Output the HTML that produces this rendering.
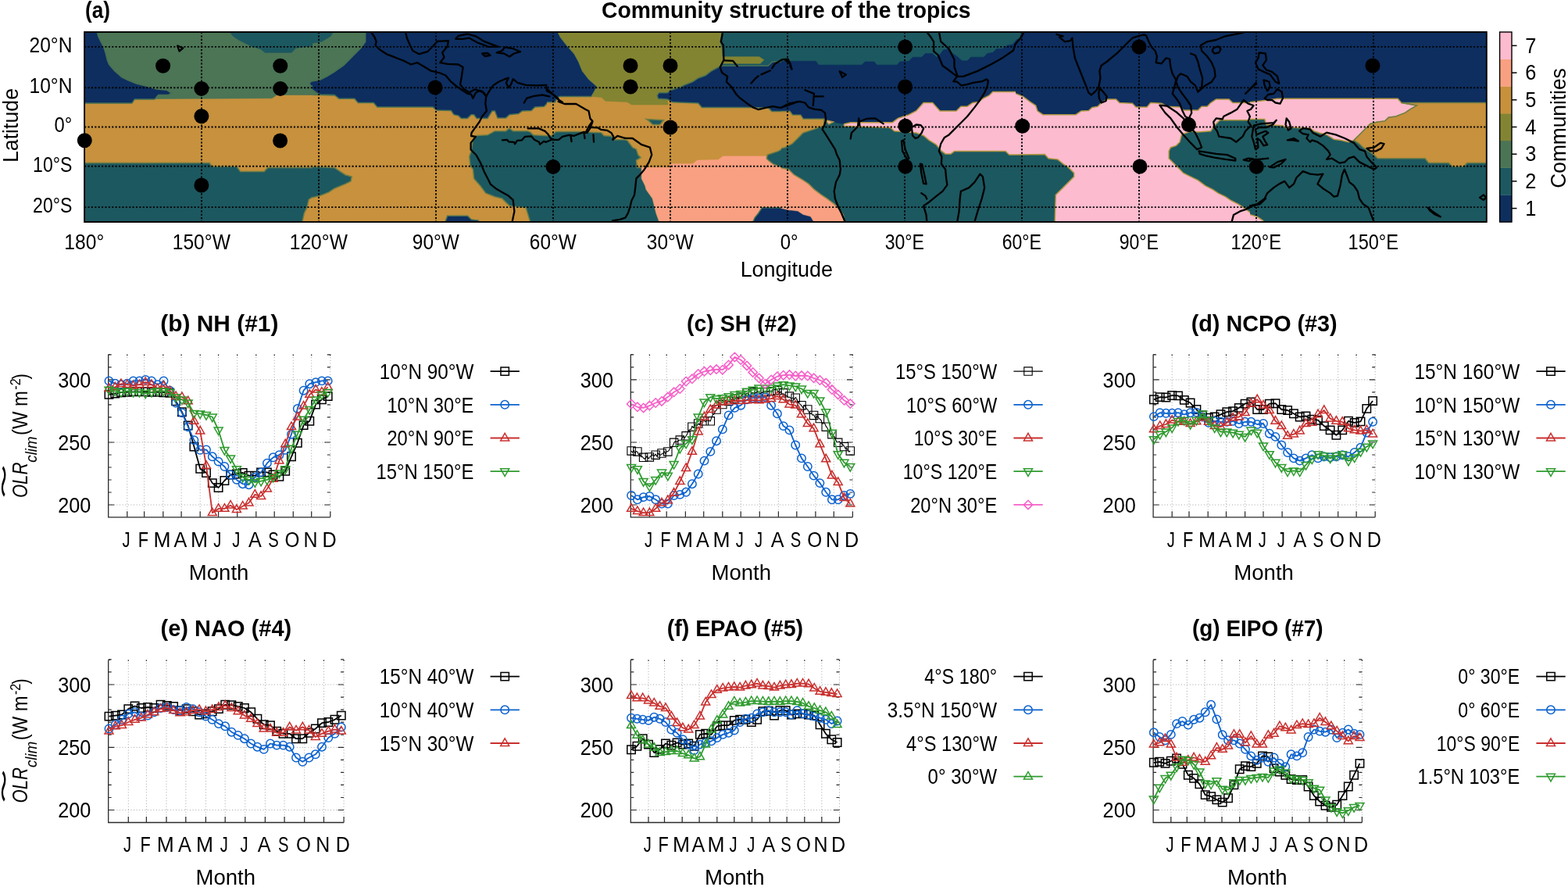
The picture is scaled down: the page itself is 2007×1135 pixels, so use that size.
<!DOCTYPE html>
<html lang="en"><head><meta charset="utf-8"><title>Community structure of the tropics</title>
<style>html,body{margin:0;padding:0;background:#fff}body{width:2007px;height:1135px;overflow:hidden}svg{display:block}text{font-family:"Liberation Sans", sans-serif}</style>
</head><body>
<svg width="2007" height="1135" viewBox="0 0 2007 1135">
<rect width="2007" height="1135" fill="#fff"/>
<defs><clipPath id="mc"><rect x="108.1" y="41" width="1794.7" height="243"/></clipPath>
<clipPath id="c0"><rect x="104" y="36" width="299" height="254"/></clipPath>
<clipPath id="c1"><rect x="400" y="36" width="303" height="254"/></clipPath>
<clipPath id="c2"><rect x="700" y="36" width="303" height="254"/></clipPath>
<clipPath id="c3"><rect x="1000" y="36" width="303" height="254"/></clipPath>
<clipPath id="c4"><rect x="1300" y="36" width="303" height="254"/></clipPath>
<clipPath id="c5"><rect x="1600" y="36" width="311" height="254"/></clipPath>
<filter id="bl" x="-2%" y="-5%" width="104%" height="110%"><feGaussianBlur stdDeviation="0.7"/></filter>
</defs>
<g clip-path="url(#mc)"><g filter="url(#bl)">
<g clip-path="url(#c0)">
<rect x="100" y="36" width="304" height="253" fill="#c7913c"/>
<polygon points="102.3,35.8 420,35.8 420,121.5 354.4,121.5 347.9,125.7 198,126.4 198,126.9 172.4,126.9 168.9,132 102.3,132" fill="#4b7455" stroke="#4b7455" stroke-width="0.6"/>
<polygon points="102.3,35.8 123.3,35.8 125.7,46.3 129.2,53.3 132.7,60.3 135,67.3 137.3,76.7 139.7,82.5 146.7,90.7 156,98.9 163,102.4 174.7,107 188.7,110.5 200.4,114 213.2,115.2 219.5,119.2 215.5,121.5 202.7,121.5 198,126.9 172.4,126.9 168.9,132 102.3,132" fill="#0e2f5e" stroke="#4a7052" stroke-width="1.5"/>
<polygon points="290.2,35.8 298.4,46.3 305.4,51 312.4,54.5 321.7,59.2 333.4,62.7 339.2,67.3 373.1,67.3 378.9,61.5 394.1,59.2 403.4,59.2 408.1,57.5 420,56.8 420,35.8" fill="#1d5860" stroke="#1d5860" stroke-width="0.6"/>
<polygon points="396.4,107 397.6,104.2 408.1,103.5 411.6,98.9 420,96.5 420,121.5 413.9,119.9 410.4,116.4 405.8,110.5 397.6,109.8" fill="#0e2f5e" stroke="#4a7052" stroke-width="1.5"/>
<polygon points="102.3,208.6 268.1,208.6 271.6,213.2 303.1,213.2 307.7,219.5 338.1,219.5 342.7,214.4 420,214.4 420,245.9 410.4,247.1 401.1,251.7 395.3,255.2 392.9,265.7 389.4,272.7 385.9,289.1 102.3,289.1" fill="#1d5860" stroke="#6f7e44" stroke-width="1.5"/>
</g>
<g clip-path="url(#c1)">
<rect x="396" y="36" width="308" height="253" fill="#c7913c"/>
<polygon points="394.2,35.8 470,35.8 470,123.4 394.2,121.5" fill="#4b7455" stroke="#4b7455" stroke-width="0.6"/>
<polygon points="394.2,35.8 429.2,35.8 423.3,46.3 411.7,53.3 394.2,56.1" fill="#1d5860" stroke="#1d5860" stroke-width="0.6"/>
<polygon points="467.7,35.8 467.7,53.3 463,60.3 456,67.3 446.7,76.7 439.7,83.7 428,91.9 418.7,97.7 409.3,102.4 394.2,104.7 394.2,110.5 404.7,118.7 409.3,121 428,121.5 433.8,126.2 453.7,126.2 458.4,131.5 478.2,131.5 482.9,136.9 554,136.9 558.7,140.9 577.4,141.6 580.9,146.7 586.7,147.9 590.2,151.4 598.4,151.4 603.1,146.7 606.6,146.7 610.1,151.4 624.1,151.4 629.9,142 633.4,142 636.9,150.9 647.4,150.9 652.1,146.7 663.7,145.5 668.4,142 680.1,141.6 684.8,136.9 696.4,136.2 701.1,131.5 710.4,130.8 712.8,126.9 720,125.7 720,35.8" fill="#0e2f5e" stroke="#4a7052" stroke-width="1.5"/>
<polygon points="710.4,35.8 720,35.8 720,49.8" fill="#838433" stroke="#838433" stroke-width="0.6"/>
<polygon points="720,173.8 701.1,173.8 682.7,172.8 678.7,168.9 675.4,167.7 656.7,167.7 652.1,164.2 647.4,167.7 633.4,167.7 624.1,172.8 610.1,173.5 605.4,179.4 603.1,193.4 600.7,200.4 601.9,212.1 605.4,216.7 606.6,228.4 614.7,237.7 621.7,247.1 633.4,251.7 642.7,254.1 652.1,263.4 673.1,265.7 676.6,277.4 680.1,289.1 720,289.1" fill="#1d5860" stroke="#6f7e44" stroke-width="1.5"/>
<polygon points="394.2,213.2 428,214.4 435,219.1 442,223.7 450.2,226.1 449,231.9 442,235.4 428,241.2 421,245.9 409.3,250.6 394.2,254.1" fill="#1d5860" stroke="#6f7e44" stroke-width="1.5"/>
<polygon points="568.1,289.1 572.7,276.2 598.4,276.2 603.1,280.9 612.4,282.1 614.7,289.1" fill="#0e2f5e" stroke="#4a7052" stroke-width="1.5"/>
</g>
<g clip-path="url(#c2)">
<rect x="696" y="36" width="308" height="253" fill="#c7913c"/>
<polygon points="694.2,35.8 711.7,35.8 717.5,47.5 725.7,58 735,68.5 740.8,79 745.5,90.7 753.7,101.2 764.2,110.5 760.7,117.5 757.2,123.4 716.3,123.4 712.8,125.7 710.5,130.8 694.2,130.8" fill="#0e2f5e" stroke="#4a7052" stroke-width="1.5"/>
<polygon points="711.7,35.8 925.2,35.8 921.7,53.3 924.1,60.3 925.2,76.7 919.4,86 910.1,91.2 903.1,96.5 893.7,100 886.7,104.7 877.4,108.2 870.4,111.7 858.7,115.2 854,118.7 843.5,118.7 841.2,122.2 842.4,126.2 854,126.9 855.2,133.9 808.5,133.9 802.7,130.4 774.7,129.2 770,124.5 757.2,123.4 760.7,117.5 764.2,110.5 753.7,101.2 745.5,90.7 740.8,79 735,68.5 725.7,58 717.5,47.5" fill="#838433" stroke="#838433" stroke-width="0.6"/>
<polygon points="925.2,35.8 1020,35.8 1020,79 988.7,79 983.1,84.2 921.7,84.2 925.2,76.7 924.1,60.3 921.7,53.3" fill="#1d5860" stroke="#1d5860" stroke-width="0.6"/>
<polygon points="917.1,72.7 971.9,72.7 977.8,76.7 973.1,81.3 917.1,81.3" fill="#838433" stroke="#838433" stroke-width="0.6"/>
<polygon points="841.2,122.2 843.5,118.7 854,118.7 858.7,115.2 870.4,111.7 877.4,108.2 886.7,104.7 893.7,100 903.1,96.5 910.1,91.2 919.4,86 922.9,84.2 983.1,84.2 988.7,79 1020,79 1020,142.5 988,142.5 983.6,138.1 956.7,137.4 898.4,137.4 893.7,132 861.1,130.8 854,126.9 842.4,126.2" fill="#0e2f5e" stroke="#4a7052" stroke-width="1.5"/>
<polygon points="694.2,173.8 705.6,173.8 711.7,168.4 742.5,168.4 769.3,169.8 773.3,173.8 782.4,174.2 786.4,178.7 799.9,178.7 802.7,179.4 809.7,188.7 814.4,191.1 816.7,198.1 820.2,201.6 814.4,205.1 815.5,214.4 821.4,214.4 821.4,228.4 826,237.7 827.2,242.4 835.4,254.1 837.7,263.4 840,272.7 845.9,289.1 694.2,289.1" fill="#1d5860" stroke="#6f7e44" stroke-width="1.5"/>
<polygon points="827.2,152.5 849.4,153.7 844.7,159.5 835.4,159.5 830.7,154.9" fill="#1d5860" stroke="#6f7e44" stroke-width="1.5"/>
<polygon points="821.4,214.4 856.4,214.4 858.7,209.7 886.7,209.7 892.6,205.1 919.4,204.6 925.2,199.9 980.1,199.9 983.6,205.1 989.4,209.7 1001.1,214.4 1008.1,219.1 1010.4,226.1 1020,228.4 1020,270.4 1010.4,269.2 1008.1,265.7 975.4,265.7 970.8,272.7 966.1,278.6 961.4,289.1 845.9,289.1 840,272.7 837.7,263.4 835.4,254.1 827.2,242.4 826,237.7 821.4,228.4" fill="#f8a081" stroke="#f8a081" stroke-width="0.6"/>
<polygon points="1020,172.4 1015.1,179.4 1008.1,186.4 996.4,193.4 982.4,198.1 981.3,202.7 983.6,205.1 989.4,209.7 1001.1,214.4 1008.1,219.1 1010.4,226.1 1020,228.4" fill="#1d5860" stroke="#6f7e44" stroke-width="1.5"/>
<polygon points="961.4,289.1 966.1,278.6 970.8,272.7 975.4,265.7 1008.1,265.7 1010.4,269.2 1020,270.4 1020,289.1" fill="#0e2f5e" stroke="#4a7052" stroke-width="1.5"/>
</g>
<g clip-path="url(#c3)">
<rect x="996" y="36" width="308" height="253" fill="#1d5860"/>
<polygon points="994.2,78.3 1044.3,78.3 1047.8,83.2 1102.7,83.2 1107.4,79 1119,79 1122.5,83.2 1148.2,83.2 1151.7,79 1163.4,78.3 1168.1,73.2 1179.7,73.2 1184.4,68.5 1193.7,68.5 1198.4,73.2 1203.1,69.7 1207.7,63.8 1214.7,62.7 1219.4,68.5 1226.4,73.2 1231.1,77.8 1238.1,77.8 1242.7,73.2 1259.1,73.2 1263.7,68.5 1270.8,67.3 1275.4,62.7 1283.6,62.2 1289.4,58 1296.4,56.8 1301.1,51 1305.8,48.7 1309.3,41.7 1310.4,35.8 1320,35.8 1320,125.7 1312.8,123.4 1303.4,117.5 1270.8,117.5 1266.1,122.2 1259.1,125.7 1252.1,130.4 1245.1,131.5 1238.1,136.2 1229.9,136.2 1224.1,142 1203.1,142 1193.7,131.5 1182.1,131.5 1172.7,142 1163.4,146.7 1149.4,151.4 1142.4,156.7 1088.7,156.7 1080.5,158.8 1066.5,156 1057.2,153.7 1054.6,152.3 1028.2,152.3 1024.7,147.2 1014.5,147.2 1011,142.5 994.2,142.5" fill="#0e2f5e" stroke="#0e2f5e" stroke-width="0.6"/>
<polygon points="994.2,142.5 1011,142.5 1014.5,147.2 1024.7,147.2 1028.2,152.3 1054.6,152.3 1054.9,160.7 1042,165.4 1028,170 1021,177 1014,184 1004.7,188.7 994.2,191.1" fill="#c7913c" stroke="#6f7e44" stroke-width="1.5"/>
<polygon points="1057.2,153.7 1066.5,156 1060.7,158.8" fill="#fcbbcf" stroke="#b0963f" stroke-width="1.5"/>
<polygon points="1080.5,158.8 1088.7,156.7 1142.4,156.7 1149.4,151.4 1163.4,146.7 1172.7,142 1182.1,131.5 1193.7,131.5 1203.1,142 1224.1,142 1229.9,136.2 1238.1,136.2 1245.1,131.5 1252.1,130.4 1259.1,125.7 1266.1,122.2 1270.8,117.5 1303.4,117.5 1312.8,123.4 1320,125.7 1320,198.1 1291.8,198.1 1287.1,193.4 1221.7,193.4 1217.1,196.9 1210.1,196.9 1205.4,193.4 1198.4,185.2 1189.1,179.4 1182.1,173.5 1172.7,170 1163.4,168.9 1144.7,167.7 1140,163.5 1080.5,161.2" fill="#fcbbcf" stroke="#b0963f" stroke-width="1.5"/>
<polygon points="994.2,214.4 1009.3,216.7 1016.3,223.7 1028,230.7 1035,235.4 1042,242.4 1051.3,249.4 1058.4,254.1 1067.7,261.1 1074.7,268.1 1079.4,275.1 1081.7,289.1 994.2,289.1" fill="#f8a081" stroke="#9a8a46" stroke-width="1.5"/>
<polygon points="994.2,265.7 1009.3,269.2 1021,270.4 1028,275.1 1037.3,277.4 1044.3,289.1 994.2,289.1" fill="#0e2f5e" stroke="#0e2f5e" stroke-width="0.6"/>
</g>
<g clip-path="url(#c4)">
<rect x="1296" y="36" width="308" height="253" fill="#fcbbcf"/>
<polygon points="1294.2,35.8 1620,35.8 1620,131.5 1601.1,131.5 1577.8,131.5 1573.1,126.9 1556.7,126.9 1549.7,131.5 1545.1,136.2 1538.1,136.2 1533.4,140.9 1514.7,140.9 1510.1,136.9 1493.7,136.2 1486.7,132.2 1472.7,131.5 1468.1,136.9 1454,136.9 1449.4,132.2 1433,131.5 1428.4,126.9 1416.7,126.9 1409.7,131.5 1405,136.2 1398,137.4 1393.4,141.6 1384,142 1377,146.7 1335,146.7 1328,142 1325.7,135 1318.7,130.4 1309.3,123.4 1294.2,117.5" fill="#0e2f5e" stroke="#a8923f" stroke-width="1.5"/>
<polygon points="1294.2,35.8 1309.3,35.8 1304.7,48.7 1294.2,53.3" fill="#1d5860" stroke="#1d5860" stroke-width="0.6"/>
<polygon points="1294.2,198.1 1337.3,197.6 1342,202.7 1353.7,203.9 1360.7,209.7 1367.7,214.4 1374.7,221.4 1374.7,226.1 1367.7,233.1 1360.7,240.1 1351.3,249.4 1350.2,282.1 1352.5,289.1 1294.2,289.1" fill="#1d5860" stroke="#b0963f" stroke-width="1.5"/>
<polygon points="1620,157.2 1603.4,157.2 1598.8,153.7 1561.4,153.7 1554.4,160.7 1549.7,167.7 1533.4,168.9 1524.1,167.7 1512.4,172.4 1510.1,181.7 1505.4,186.4 1498.4,188.7 1496.1,193.4 1496.1,202.7 1503.1,209.7 1510.1,216.7 1514.7,221.4 1524.1,226.1 1533.4,230.7 1542.7,237.7 1552.1,242.4 1559.1,247.1 1568.4,251.7 1575.4,256.4 1584.8,261.1 1591.8,265.7 1601.1,272.7 1612.8,277.4 1620,279.7" fill="#1d5860" stroke="#b0963f" stroke-width="1.5"/>
</g>
<g clip-path="url(#c5)">
<rect x="1596" y="36" width="316" height="253" fill="#1d5860"/>
<polygon points="1594.2,35.8 1910.4,35.8 1910.4,131.5 1793.7,131.5 1789.1,126.2 1635,126.2 1623.3,128 1594.2,131.5" fill="#0e2f5e" stroke="#0e2f5e" stroke-width="0.6"/>
<polygon points="1594.2,131.5 1623.3,128 1635,126.2 1789.1,126.2 1793.7,131.5 1813.6,135 1805.4,139.7 1798.4,144.4 1786.7,149 1777.4,150.2 1772.7,154.9 1763.4,156 1754,158.4 1749.4,163 1744.7,167.7 1737.7,174.7 1733,179.4 1726,181.7 1716.7,179.4 1707.4,178.2 1698,172.4 1688.7,170 1681.7,167.7 1677,164.2 1651.3,163 1646.7,164.2 1642,160.7 1621,159.5 1618.7,152.5 1594.2,152.5" fill="#fcbbcf" stroke="#b0963f" stroke-width="1.5"/>
<polygon points="1793.7,131.5 1910.4,131.5 1910.4,208.6 1877.8,208.6 1873.1,213.2 1859.1,213.2 1854.4,208.6 1828.7,208.6 1824.1,202.7 1763.4,202.7 1758.7,198.1 1751.7,193.4 1744.7,188.7 1740,184 1733,179.4 1737.7,174.7 1744.7,167.7 1749.4,163 1754,158.4 1763.4,156 1772.7,154.9 1777.4,150.2 1786.7,149 1798.4,144.4 1805.4,139.7 1813.6,135" fill="#c7913c" stroke="#6f7e44" stroke-width="1.5"/>
<polygon points="1594.2,272.7 1609.3,277.4 1616.3,282.1 1621,289.1 1594.2,289.1" fill="#fcbbcf" stroke="#b0963f" stroke-width="1.5"/>
</g>
</g>
<g fill="none" stroke="#000" stroke-width="2.3" stroke-linejoin="round" stroke-linecap="round">
<polygon points="227.2,58.5 234.2,61.5 229.5,65.5"/>
<polyline points="474.7,40.5 479.4,47.5 481.7,53.3 480.5,58 486.4,63.8 495.7,69.7 505,73.2 516.7,77.8 526,82.5 534.2,80.2 542.4,84.9 551.7,90.7 563.4,93.5 570.4,96.5 577.4,104.7 584.4,110.5 591.4,115.2 598.4,119.9 603.1,120.6 605.4,125.7 608.9,118.7 613.6,115.9 619.4,118.7 622.2,123.4 621.3,132.7 622.9,142 617.1,149 613.6,156 607.7,164.2 603.5,170 603.1,174 608.9,174.9 602.6,182.9 602.6,191.5 609.6,198.5 615.2,208.6 619.9,220 625.2,230.3 628,235.9 634.6,241.2 642.7,245.9 650.9,250.6 656.7,255.9 658.4,270.4 655.6,283.9"/>
<polyline points="519,40.5 520.9,48.7 524.9,58 528.4,65 536.5,69.2 547,66.2 555.2,58 559.9,52.9 573.9,52.2 572.7,59.2 566.2,67.3 568.5,73.2 563.4,80.2 572.7,81.8 586.7,82.5 592.6,86 590.9,97.7 589.1,108.2 593.7,114 600.7,118.2 607.7,114.5 617.1,116.8 622.2,123.4"/>
<polyline points="622.2,123.4 626.4,116.4 631.1,109.4 638.1,104.7 646.2,101.2 650.9,99.6 647.9,105.9 650.9,112.2 653.9,108.2 656.7,101.2 662.6,105.9 673.1,108.9 687.1,109.4 699.2,108.9 699.9,116.4 704.6,118.7 709.3,122.2 713.9,126.9 720,130.8"/>
<polyline points="670.8,131.5 674.3,125.7 683.6,122.9 694.1,121.5 703.4,123.4"/>
<polygon points="583.2,49.8 586.7,45.9 598.4,43.5 608.9,46.3 619.4,52.9 629.9,56.8 638.1,59.9 625.2,59.9 611.2,54.5 600.7,48.7 592.6,49.8"/>
<polygon points="635.7,67.3 642.7,65 646.2,60.3 656.7,62.2 666.1,66.2 657.9,68.5 652.1,72.5 645.1,68.5"/>
<polygon points="617.1,68.5 624.1,68 627.6,70.8 620.6,72"/>
<polyline points="643,179.3 649,178.8 651,181.3 658,181.8 659,184.3 662,179.8 668,179.3 672,174.8 680,174.3 684,178.8 690,181.8 691,184.8 696,180.8 699,181.8 706,178.8 715,178.8 720,174.8 728,172.8 735,173.8 742,170.9 747.5,168.9 751.5,169.9 755.5,163.9 758.4,155.9"/>
<polyline points="714.6,130 722.6,133 737.5,133 749.5,140 753.5,142 755.5,151.9 758.4,154.9 753.5,161.9 749.5,169.9"/>
<polyline points="753.5,162.9 765.4,163.4 769.4,165.9 777.4,166.9 782.4,169.9 785.3,174.8 784.4,178.8 790.3,173.8 800,176.8"/>
<polyline points="675.7,164.4 689.7,164.4 697.7,167.9 701.6,171.9 704.6,176.8 708.6,178.8"/>
<polyline points="730.5,173 731.5,181"/>
<polyline points="747.5,170 748.5,177"/>
<polyline points="759.5,172.5 760,181.5"/>
<polyline points="700,114 707,119.9 714.5,126.2 715.9,129.9"/>
<polyline points="799.9,176.8 809.7,177 821.4,185.2 831.9,188.7 834.2,198.1 830.7,207.4 824.9,216.7 817.9,224.9 814.4,228.4 813.2,240.1 812,249.4 808.5,256.4 806.2,265.7 803.9,272.7 800.4,278.6 793.4,280.9 784,282.5"/>
<polyline points="925.2,40.5 922.9,53.3 925.9,58 926.4,76.7 921.7,86 924.1,93 931.1,97.7 929.9,104.7 935.7,110.5 942.7,121 947.4,125.7 956.7,132.7 963.7,137.4 970.8,140.2 980.1,137.8 989.4,136.2 998.8,137.8 1008.1,135 1020,130.4"/>
<polyline points="926.9,77.4 938.1,77.8 943.9,84.9"/>
<polyline points="961.4,106.6 966.1,101.2 970.8,97.2"/>
<polyline points="974.3,95.4 985.9,90.2"/>
<polyline points="988.3,87.2 991.8,81.8 1001.1,76.2 1008.6,75.7 1011.6,81.8 1013.2,87.9"/>
<polyline points="1000,137.8 1009.3,132.7 1023.3,129.9 1030.3,131.5 1035,137.4 1042,139.7 1051.3,140.9 1056,144.4 1057.2,153.7 1054.9,160.7 1052.5,165.4 1057.2,172.4 1063,181.7 1068.9,191.1 1071.2,198.1 1074.7,205.1 1075.9,216.7 1074.7,223.7 1070,233.1 1067.7,244.7 1068.9,254.1 1072.4,263.4 1077,272.7 1081.7,283.9"/>
<polyline points="1030.3,115.2 1042,119.9 1040.8,135"/>
<polyline points="1042,123.4 1053.7,123.4"/>
<polyline points="1004.7,76.7 1009.3,80.2"/>
<polyline points="1011.2,83.7 1013.5,88.8"/>
<polygon points="1074.7,91.2 1082.9,95.4 1078.2,98.9"/>
<polyline points="1088.7,177.5 1089.9,170 1098,161.9 1099.2,151.4 1100.4,160.7"/>
<polyline points="1099.2,156 1109.7,151.8 1120.2,151.4 1130.7,158.4"/>
<polygon points="1166.9,163 1172.7,159.5 1178.6,160.2 1182.1,164.2 1179.7,170 1175.1,175.9 1171.6,177 1168.1,173.5"/>
<polygon points="1154,180.5 1156.4,179.4 1158.7,191.1 1163.4,202.7 1161.1,203.9 1155.2,193.4"/>
<polygon points="1177.9,209.7 1180.2,210.2 1183.2,223.7 1185.6,235.4 1182.1,234.9 1179.3,221.4"/>
<polyline points="1179.3,247.1 1184.4,250.6 1186.3,254.5"/>
<polyline points="1186,40.5 1191.4,47.5 1195.1,53.3 1195.1,65.7 1200.7,70.4 1206.6,84.2 1214.5,89.8 1225,97.9"/>
<polyline points="1201.9,40.5 1204.2,53.1 1214.5,62.4 1221.5,76.2 1221.5,85.3 1225.5,97.2 1220.3,104.2 1225,104.7 1230.6,109.4 1237.6,108.2 1245.5,105.9 1257,104.2 1262.8,101.4 1264.9,103.5 1263.7,110.5 1260.2,118.7 1254.4,128 1247.4,137.4 1238.1,149 1229.9,157.2 1221.7,165.4 1214.7,172.4 1208.9,175.9 1204.2,184 1201.9,193.4 1205.4,200.4 1204.9,209.7 1210.1,216.7 1211.2,228.4 1212.4,236.6 1206.6,244.7 1196.1,252.9 1189.1,258.7 1182.1,263.4 1185.6,275.1 1186.3,283.9"/>
<polyline points="1225,97.9 1232.9,97.9 1251.4,90.9 1269.6,81.8 1283.4,73.9 1297.1,64.5 1299.5,56.6 1306.2,48.7 1309.7,42.8 1310.9,40.5"/>
<polyline points="1225.2,283.9 1227.6,270.4 1228.7,254.1 1229.9,244.7 1240.4,240.1 1247.4,233.1 1252.1,226.1 1254.4,222.6 1257.9,226.1 1260.2,240.1 1256.7,254.1 1252.1,268.1 1247.4,283.9"/>
<polyline points="1352.5,44 1360.7,46.3 1356,47.5 1363,53.3 1370,52.2 1372.4,48.7 1373.5,60.3 1375.9,74.3 1380.5,86 1385.2,97.7 1389.9,109.4 1393.4,118.7 1396.9,121.5 1402.7,116.4 1406.2,111.7 1408.5,100 1407.4,90.7 1409.7,83.7 1416.7,79 1423.7,73.2 1430.7,67.3 1437.7,60.3 1444.7,53.3 1449.4,48.7 1456.4,46.3 1463.4,44.5 1466.9,45.2 1470.4,53.3 1473.9,60.3 1478.6,65 1480.9,72 1479.7,80.2 1486.7,81.3 1492.6,74.3 1497.2,75.5 1498.4,86 1500.7,94.2 1505.4,102.4 1503.1,111.7 1500.7,119.9 1505.4,125.7 1510.1,132.7 1513.6,142 1517.1,149 1521.7,151.4 1525.2,144.4 1524.1,135 1519.4,128 1512.4,118.7 1507.7,111.7 1505.4,104.7 1507.7,97.7 1511.2,94.2 1519.4,97.7 1524.1,104.7 1529.9,109.4 1533.4,117.5 1538.1,112.9 1539.2,100 1535.7,88.4 1533.4,79 1529.9,70.8 1524.1,68.5"/>
<polyline points="1533.4,117.5 1542.7,109.4 1550.9,104.7 1555.6,97.7 1554.4,88.4 1550.9,80.2 1545.1,72 1538.1,65 1536.9,58 1545.1,53.3 1556.7,51 1568.4,46.3 1580.1,44 1591.8,41.7"/>
<polygon points="1407.8,112.9 1412,117.5 1416.7,123.4 1415.5,129.2 1409.7,131.5 1406.9,125.7 1406.2,118.7"/>
<polygon points="1553.2,61.5 1559.1,59.2 1562.6,62.7 1560.2,67.3 1554.4,68.5 1551.6,65"/>
<polygon points="1484.4,134.6 1493.7,135.5 1505.4,143.2 1514.7,151.4 1521.7,160.7 1529.9,170 1534.6,179.4 1538.1,188.7 1532.2,191.1 1524.1,182.9 1514.7,172.4 1506.6,163 1498.4,151.4 1491.4,144.4"/>
<polygon points="1534.6,193.4 1542.7,194.6 1556.7,196.9 1570.8,198.1 1581.3,202.7 1581.3,205.5 1568.4,203.9 1554.4,201.6 1542.7,199.2 1535.7,196.9"/>
<polygon points="1553.2,156 1556.7,151.4 1564.9,152.5 1566.1,149 1575.4,144.4 1583.6,139.7 1591.8,128 1597.6,132.7 1604.6,135 1601.1,139.7 1596.4,142 1599.9,149 1597.6,156 1601.1,160.7 1594.1,167.7 1590.6,174.7 1582.4,181.7 1575.4,177 1568.4,175.9 1560.2,174.7 1557.9,167.7 1554.4,163"/>
<polyline points="1594.1,119.9 1601.1,112.9 1607.6,105.9"/>
<polygon points="1591.8,204.6 1597.6,202.7 1603.4,203.2 1598.8,206.2"/>
<polyline points="1576.6,283.9 1578.9,275.1 1587.1,270.4 1594.1,268.1 1603.4,263.4 1612.8,261.1 1620,254.1"/>
<polygon points="1611.7,67.3 1619.8,68.5 1621,76.7 1616.3,83.7 1621,89.5 1628,91.9 1635,97.7 1637.3,107 1632.7,104.7 1625.7,95.4 1617.5,91.9 1610.5,88.4 1607,80.2 1610.5,74.3"/>
<polygon points="1618.7,125.7 1623.3,121 1630.3,119.9 1635,114 1640.8,117.5 1642,125.7 1638.5,132.7 1632.7,131.5 1628,128 1622.2,128"/>
<polygon points="1617.5,102.4 1624.5,104.7 1625.7,111.7 1622.2,116.4 1618.7,109.4"/>
<polyline points="1600,114 1608.2,107"/>
<polyline points="1604.7,160.7 1614,158.4 1630.3,157.2 1633.8,153.7 1629.2,159.5 1621,163 1611.7,163 1607,165.4 1608.2,172.4 1614,170 1619.8,167.7 1623.3,170 1616.3,174.7 1619.8,181.7 1622.2,185.2 1617.5,186.4 1612.8,179.4 1609.3,177 1610.5,188.7 1607,191.1 1604.7,181.7 1602.3,174.7 1604.7,160.7"/>
<polygon points="1646.7,151.4 1650.2,156 1652.5,164.2 1649,166.5 1645.5,159.5"/>
<polygon points="1663,167.7 1667.7,164.2 1677,165.4 1680.5,170 1689.9,174.7 1698,169.6 1709.7,172.4 1721.4,177 1733,182.9 1740,191.1 1747,193.4 1749.4,200.4 1755.2,207.4 1762.2,214.4 1758.7,216.7 1749.4,212.1 1740,207.4 1733,200.4 1726,202.7 1721.4,207.4 1714.4,208.6 1705,202.7 1698,203.9 1702.7,198.1 1700.4,193.4 1693.4,186.4 1686.4,181.7 1679.4,179.4 1677,181.7 1672.4,177 1674.7,172.4 1667.7,171.2"/>
<polygon points="1749.4,189.9 1758.7,188.7 1766.9,182.9 1771.6,184 1768.1,189.9 1761.1,193.4 1754,193.4"/>
<polygon points="1647.8,179.4 1656,177 1661.9,180.5 1654.9,179.4"/>
<polygon points="1625.2,213.9 1635,207.4 1645.5,203.9 1639.7,209.7 1630.3,214.4"/>
<polyline points="1600,203.9 1611.7,203.9 1623.3,202.7"/>
<polyline points="1600,263.4 1609.3,261.1 1618.7,254.1 1622.2,247.1 1630.3,240.1 1637.3,235.4 1644.3,231.9 1650.2,240.1 1656,235.4 1659.5,227.2 1667.7,219.1 1677,222.6 1686.4,223.7 1693.4,222.6 1689.9,228.4 1686.4,235.4 1693.4,241.2 1702.7,247.1 1707.4,251.7 1712,250.6 1715.5,237.7 1717.9,223.7 1720.9,216.7 1723.7,223.7 1727.2,233.1 1733,237.7 1737.7,244.7 1740,254.1 1744.7,261.1 1751.7,265.7 1755.2,275.1 1758.7,283.9"/>
<polygon points="1827.6,265.7 1833.4,270.4 1843.9,277.4 1835.7,273.9 1829.9,269.2"/>
<polygon points="1894.1,252.9 1898.8,249.4 1902.3,252.9 1898.8,255.9"/>
</g>
<g stroke="#000" stroke-width="1.9" stroke-dasharray="2.1 2.29" fill="none">
<path d="M108.1 59.9H1902.8"/>
<path d="M108.1 112.3H1902.8"/>
<path d="M108.1 162.5H1902.8"/>
<path d="M108.1 212.7H1902.8"/>
<path d="M108.1 265.1H1902.8"/>
<path d="M258 41V284"/>
<path d="M408 41V284"/>
<path d="M558 41V284"/>
<path d="M708 41V284"/>
<path d="M858 41V284"/>
<path d="M1008 41V284"/>
<path d="M1158 41V284"/>
<path d="M1308 41V284"/>
<path d="M1458 41V284"/>
<path d="M1608 41V284"/>
<path d="M1758 41V284"/>
</g>
</g>
<g fill="#000">
<circle cx="108.3" cy="179.8" r="9.5"/>
<circle cx="208.6" cy="84.2" r="9.5"/>
<circle cx="257.9" cy="113.4" r="9.5"/>
<circle cx="257.9" cy="148.7" r="9.5"/>
<circle cx="257.9" cy="237" r="9.5"/>
<circle cx="358.8" cy="84.2" r="9.5"/>
<circle cx="358.8" cy="113.4" r="9.5"/>
<circle cx="358.6" cy="180" r="9.5"/>
<circle cx="557" cy="112" r="9.5"/>
<circle cx="708" cy="213.4" r="9.5"/>
<circle cx="807" cy="84" r="9.5"/>
<circle cx="807" cy="111" r="9.5"/>
<circle cx="858" cy="84" r="9.5"/>
<circle cx="858" cy="163" r="9.5"/>
<circle cx="1158.6" cy="60" r="9.5"/>
<circle cx="1158.6" cy="111" r="9.5"/>
<circle cx="1158.9" cy="161.2" r="9.5"/>
<circle cx="1158.9" cy="213" r="9.5"/>
<circle cx="1308.7" cy="161.2" r="9.5"/>
<circle cx="1458" cy="60" r="9.5"/>
<circle cx="1459" cy="213" r="9.5"/>
<circle cx="1521.5" cy="159.6" r="9.5"/>
<circle cx="1608.3" cy="213.3" r="9.5"/>
<circle cx="1757" cy="84" r="9.5"/>
</g>
<rect x="108.1" y="41" width="1794.7" height="243" fill="none" stroke="#000" stroke-width="1.9"/>
<text x="109" y="22.5" font-size="29.5" font-weight="bold" textLength="32" lengthAdjust="spacingAndGlyphs">(a)</text>
<text x="1006.3" y="23.3" font-size="29.5" text-anchor="middle" font-weight="bold" textLength="472.6" lengthAdjust="spacingAndGlyphs">Community structure of the tropics</text>
<text x="92.4" y="66.6" font-size="26.8" text-anchor="end" textLength="54.9" lengthAdjust="spacingAndGlyphs">20°N</text>
<text x="92.4" y="119.2" font-size="26.8" text-anchor="end" textLength="54.9" lengthAdjust="spacingAndGlyphs">10°N</text>
<text x="92.4" y="169.4" font-size="26.8" text-anchor="end" textLength="22.8" lengthAdjust="spacingAndGlyphs">0°</text>
<text x="92.4" y="219.6" font-size="26.8" text-anchor="end" textLength="50.3" lengthAdjust="spacingAndGlyphs">10°S</text>
<text x="92.4" y="271.6" font-size="26.8" text-anchor="end" textLength="50.3" lengthAdjust="spacingAndGlyphs">20°S</text>
<text x="107.8" y="319.4" font-size="26.8" text-anchor="middle" textLength="50.9" lengthAdjust="spacingAndGlyphs">180°</text>
<text x="257.8" y="319.4" font-size="26.8" text-anchor="middle" textLength="74.1" lengthAdjust="spacingAndGlyphs">150°W</text>
<text x="407.8" y="319.4" font-size="26.8" text-anchor="middle" textLength="74.1" lengthAdjust="spacingAndGlyphs">120°W</text>
<text x="557.8" y="319.4" font-size="26.8" text-anchor="middle" textLength="60" lengthAdjust="spacingAndGlyphs">90°W</text>
<text x="707.8" y="319.4" font-size="26.8" text-anchor="middle" textLength="60" lengthAdjust="spacingAndGlyphs">60°W</text>
<text x="857.8" y="319.4" font-size="26.8" text-anchor="middle" textLength="60" lengthAdjust="spacingAndGlyphs">30°W</text>
<text x="1010.2" y="319.4" font-size="26.8" text-anchor="middle" textLength="22.8" lengthAdjust="spacingAndGlyphs">0°</text>
<text x="1157.8" y="319.4" font-size="26.8" text-anchor="middle" textLength="50.3" lengthAdjust="spacingAndGlyphs">30°E</text>
<text x="1307.8" y="319.4" font-size="26.8" text-anchor="middle" textLength="50.3" lengthAdjust="spacingAndGlyphs">60°E</text>
<text x="1457.8" y="319.4" font-size="26.8" text-anchor="middle" textLength="50.3" lengthAdjust="spacingAndGlyphs">90°E</text>
<text x="1607.8" y="319.4" font-size="26.8" text-anchor="middle" textLength="64.4" lengthAdjust="spacingAndGlyphs">120°E</text>
<text x="1757.8" y="319.4" font-size="26.8" text-anchor="middle" textLength="64.4" lengthAdjust="spacingAndGlyphs">150°E</text>
<text x="1006.8" y="353.6" font-size="26.8" text-anchor="middle" textLength="118.3" lengthAdjust="spacingAndGlyphs">Longitude</text>
<text x="23.4" y="160.5" font-size="26.8" text-anchor="middle" textLength="95" lengthAdjust="spacingAndGlyphs" transform="rotate(-90 23.4 160.5)">Latitude</text>
<rect x="1919.6" y="249.3" width="15.4" height="35" fill="#0e2f5e"/>
<rect x="1919.6" y="214.6" width="15.4" height="35" fill="#1d5860"/>
<rect x="1919.6" y="179.9" width="15.4" height="35" fill="#4b7455"/>
<rect x="1919.6" y="145.1" width="15.4" height="35" fill="#838433"/>
<rect x="1919.6" y="110.4" width="15.4" height="35" fill="#c7913c"/>
<rect x="1919.6" y="75.7" width="15.4" height="35" fill="#f8a081"/>
<rect x="1919.6" y="41" width="15.4" height="35" fill="#fcbbcf"/>
<rect x="1919.6" y="41" width="15.4" height="243" fill="none" stroke="#000" stroke-width="1.4"/>
<path d="M1935 266.6h6.5" stroke="#000" stroke-width="1.5"/>
<text x="1952.3" y="275.8" font-size="26.8" textLength="14.1" lengthAdjust="spacingAndGlyphs">1</text>
<path d="M1935 231.9h6.5" stroke="#000" stroke-width="1.5"/>
<text x="1952.3" y="241.1" font-size="26.8" textLength="14.1" lengthAdjust="spacingAndGlyphs">2</text>
<path d="M1935 197.2h6.5" stroke="#000" stroke-width="1.5"/>
<text x="1952.3" y="206.4" font-size="26.8" textLength="14.1" lengthAdjust="spacingAndGlyphs">3</text>
<path d="M1935 162.5h6.5" stroke="#000" stroke-width="1.5"/>
<text x="1952.3" y="171.7" font-size="26.8" textLength="14.1" lengthAdjust="spacingAndGlyphs">4</text>
<path d="M1935 127.8h6.5" stroke="#000" stroke-width="1.5"/>
<text x="1952.3" y="137" font-size="26.8" textLength="14.1" lengthAdjust="spacingAndGlyphs">5</text>
<path d="M1935 93.1h6.5" stroke="#000" stroke-width="1.5"/>
<text x="1952.3" y="102.3" font-size="26.8" textLength="14.1" lengthAdjust="spacingAndGlyphs">6</text>
<path d="M1935 58.4h6.5" stroke="#000" stroke-width="1.5"/>
<text x="1952.3" y="67.6" font-size="26.8" textLength="14.1" lengthAdjust="spacingAndGlyphs">7</text>
<text x="2004.2" y="164" font-size="26.8" text-anchor="middle" textLength="153.4" lengthAdjust="spacingAndGlyphs" transform="rotate(-90 2004.2 164)">Communities</text>
<g>
<path d="M162.8 453.6V661.8M184.6 453.6V661.8M208.8 453.6V661.8M232.1 453.6V661.8M256.2 453.6V661.8M279.6 453.6V661.8M303.7 453.6V661.8M327.8 453.6V661.8M351.2 453.6V661.8M375.3 453.6V661.8M398.7 453.6V661.8M422.8 453.6V661.8M138.7 646H422.8M138.7 566H422.8M138.7 485.9H422.8" stroke="#9a9a9a" stroke-width="1" stroke-dasharray="0.9 2.7" fill="none"/>
<path d="M162.8 661.8v-7.5M162.8 453.6v1.6M184.6 661.8v-7.5M184.6 453.6v1.6M208.8 661.8v-7.5M208.8 453.6v1.6M232.1 661.8v-7.5M232.1 453.6v1.6M256.2 661.8v-7.5M256.2 453.6v1.6M279.6 661.8v-7.5M279.6 453.6v1.6M303.7 661.8v-7.5M303.7 453.6v1.6M327.8 661.8v-7.5M327.8 453.6v1.6M351.2 661.8v-7.5M351.2 453.6v1.6M375.3 661.8v-7.5M375.3 453.6v1.6M398.7 661.8v-7.5M398.7 453.6v1.6M422.8 661.8v-7.5M422.8 453.6v1.6M138.7 646h7.5M422.8 646h-7.5M138.7 630h4M422.8 630h-4M138.7 614h4M422.8 614h-4M138.7 598h4M422.8 598h-4M138.7 582h4M422.8 582h-4M138.7 566h7.5M422.8 566h-7.5M138.7 550h4M422.8 550h-4M138.7 533.9h4M422.8 533.9h-4M138.7 517.9h4M422.8 517.9h-4M138.7 501.9h4M422.8 501.9h-4M138.7 485.9h7.5M422.8 485.9h-7.5M138.7 469.9h4M422.8 469.9h-4M138.7 453.9h4M422.8 453.9h-4M138.7 453.6h2.5" stroke="#2a2a2a" stroke-width="1.2" fill="none"/>
<path d="M138.7 453.6V661.8H422.8" stroke="#2a2a2a" stroke-width="1.3" fill="none"/>
<polyline points="139.5,504.9 147.3,503.5 155,502.2 162.8,501.8 170.6,501.3 178.4,501.3 186.2,501.3 194,501.8 201.7,501.8 209.5,502.2 217.3,502.8 225.1,513.4 232.9,527.2 240.7,544.5 248.4,571.6 256.2,599.7 264,605 271.8,618.1 279.6,624 287.4,615 295.1,607.5 302.9,606.5 310.7,605 318.5,608.6 326.3,608.6 334.1,604.4 341.9,604.4 349.6,607.5 357.4,609.7 365.2,602.9 373,584.3 380.8,566.7 388.6,544.1 396.3,538.8 404.1,517.6 411.9,511.3 419.7,507.1" fill="none" stroke="#000000" stroke-width="1.8" stroke-linejoin="round"/>
<path d="M134.3 499.7h10.4v10.4h-10.4zM142.1 498.3h10.4v10.4h-10.4zM149.8 497h10.4v10.4h-10.4zM157.6 496.6h10.4v10.4h-10.4zM165.4 496.1h10.4v10.4h-10.4zM173.2 496.1h10.4v10.4h-10.4zM181 496.1h10.4v10.4h-10.4zM188.8 496.6h10.4v10.4h-10.4zM196.5 496.6h10.4v10.4h-10.4zM204.3 497h10.4v10.4h-10.4zM212.1 497.6h10.4v10.4h-10.4zM219.9 508.2h10.4v10.4h-10.4zM227.7 522h10.4v10.4h-10.4zM235.5 539.3h10.4v10.4h-10.4zM243.2 566.4h10.4v10.4h-10.4zM251 594.5h10.4v10.4h-10.4zM258.8 599.8h10.4v10.4h-10.4zM266.6 612.9h10.4v10.4h-10.4zM274.4 618.8h10.4v10.4h-10.4zM282.2 609.8h10.4v10.4h-10.4zM289.9 602.3h10.4v10.4h-10.4zM297.7 601.3h10.4v10.4h-10.4zM305.5 599.8h10.4v10.4h-10.4zM313.3 603.4h10.4v10.4h-10.4zM321.1 603.4h10.4v10.4h-10.4zM328.9 599.2h10.4v10.4h-10.4zM336.7 599.2h10.4v10.4h-10.4zM344.4 602.3h10.4v10.4h-10.4zM352.2 604.5h10.4v10.4h-10.4zM360 597.7h10.4v10.4h-10.4zM367.8 579.1h10.4v10.4h-10.4zM375.6 561.5h10.4v10.4h-10.4zM383.4 538.9h10.4v10.4h-10.4zM391.1 533.6h10.4v10.4h-10.4zM398.9 512.4h10.4v10.4h-10.4zM406.7 506.1h10.4v10.4h-10.4zM414.5 501.9h10.4v10.4h-10.4z" fill="none" stroke="#000000" stroke-width="1.5"/>
<path d="M627.6 475.1h37.3" stroke="#000000" stroke-width="1.8" fill="none"/>
<path d="M641 469.9h10.4v10.4h-10.4z" fill="none" stroke="#000000" stroke-width="1.5"/>
<text x="606.4" y="484.8" font-size="26.8" text-anchor="end" textLength="120.7" lengthAdjust="spacingAndGlyphs">10°N 90°W</text>
<polyline points="139.5,487.4 147.3,490.8 155,492.2 162.8,490.8 170.6,487.4 178.4,487.4 186.2,485.9 194,487.4 201.7,492.2 209.5,487.4 217.3,499.7 225.1,515.5 232.9,528.2 240.7,546.2 248.4,563.1 256.2,575.8 264,575.4 271.8,584.3 279.6,590.6 287.4,597 295.1,607.5 302.9,613.9 310.7,619.2 318.5,620.2 326.3,610.7 334.1,604.4 341.9,592.7 349.6,585.3 357.4,582.2 365.2,575.8 373,555.7 380.8,522.9 388.6,499.7 396.3,491.2 404.1,489.1 411.9,487.4 419.7,487.4" fill="none" stroke="#0b62cf" stroke-width="1.8" stroke-linejoin="round"/>
<path d="M134.3 487.4a5.2 5.2 0 1 0 10.4 0a5.2 5.2 0 1 0 -10.4 0zM142.1 490.8a5.2 5.2 0 1 0 10.4 0a5.2 5.2 0 1 0 -10.4 0zM149.8 492.2a5.2 5.2 0 1 0 10.4 0a5.2 5.2 0 1 0 -10.4 0zM157.6 490.8a5.2 5.2 0 1 0 10.4 0a5.2 5.2 0 1 0 -10.4 0zM165.4 487.4a5.2 5.2 0 1 0 10.4 0a5.2 5.2 0 1 0 -10.4 0zM173.2 487.4a5.2 5.2 0 1 0 10.4 0a5.2 5.2 0 1 0 -10.4 0zM181 485.9a5.2 5.2 0 1 0 10.4 0a5.2 5.2 0 1 0 -10.4 0zM188.8 487.4a5.2 5.2 0 1 0 10.4 0a5.2 5.2 0 1 0 -10.4 0zM196.5 492.2a5.2 5.2 0 1 0 10.4 0a5.2 5.2 0 1 0 -10.4 0zM204.3 487.4a5.2 5.2 0 1 0 10.4 0a5.2 5.2 0 1 0 -10.4 0zM212.1 499.7a5.2 5.2 0 1 0 10.4 0a5.2 5.2 0 1 0 -10.4 0zM219.9 515.5a5.2 5.2 0 1 0 10.4 0a5.2 5.2 0 1 0 -10.4 0zM227.7 528.2a5.2 5.2 0 1 0 10.4 0a5.2 5.2 0 1 0 -10.4 0zM235.5 546.2a5.2 5.2 0 1 0 10.4 0a5.2 5.2 0 1 0 -10.4 0zM243.2 563.1a5.2 5.2 0 1 0 10.4 0a5.2 5.2 0 1 0 -10.4 0zM251 575.8a5.2 5.2 0 1 0 10.4 0a5.2 5.2 0 1 0 -10.4 0zM258.8 575.4a5.2 5.2 0 1 0 10.4 0a5.2 5.2 0 1 0 -10.4 0zM266.6 584.3a5.2 5.2 0 1 0 10.4 0a5.2 5.2 0 1 0 -10.4 0zM274.4 590.6a5.2 5.2 0 1 0 10.4 0a5.2 5.2 0 1 0 -10.4 0zM282.2 597a5.2 5.2 0 1 0 10.4 0a5.2 5.2 0 1 0 -10.4 0zM289.9 607.5a5.2 5.2 0 1 0 10.4 0a5.2 5.2 0 1 0 -10.4 0zM297.7 613.9a5.2 5.2 0 1 0 10.4 0a5.2 5.2 0 1 0 -10.4 0zM305.5 619.2a5.2 5.2 0 1 0 10.4 0a5.2 5.2 0 1 0 -10.4 0zM313.3 620.2a5.2 5.2 0 1 0 10.4 0a5.2 5.2 0 1 0 -10.4 0zM321.1 610.7a5.2 5.2 0 1 0 10.4 0a5.2 5.2 0 1 0 -10.4 0zM328.9 604.4a5.2 5.2 0 1 0 10.4 0a5.2 5.2 0 1 0 -10.4 0zM336.7 592.7a5.2 5.2 0 1 0 10.4 0a5.2 5.2 0 1 0 -10.4 0zM344.4 585.3a5.2 5.2 0 1 0 10.4 0a5.2 5.2 0 1 0 -10.4 0zM352.2 582.2a5.2 5.2 0 1 0 10.4 0a5.2 5.2 0 1 0 -10.4 0zM360 575.8a5.2 5.2 0 1 0 10.4 0a5.2 5.2 0 1 0 -10.4 0zM367.8 555.7a5.2 5.2 0 1 0 10.4 0a5.2 5.2 0 1 0 -10.4 0zM375.6 522.9a5.2 5.2 0 1 0 10.4 0a5.2 5.2 0 1 0 -10.4 0zM383.4 499.7a5.2 5.2 0 1 0 10.4 0a5.2 5.2 0 1 0 -10.4 0zM391.1 491.2a5.2 5.2 0 1 0 10.4 0a5.2 5.2 0 1 0 -10.4 0zM398.9 489.1a5.2 5.2 0 1 0 10.4 0a5.2 5.2 0 1 0 -10.4 0zM406.7 487.4a5.2 5.2 0 1 0 10.4 0a5.2 5.2 0 1 0 -10.4 0zM414.5 487.4a5.2 5.2 0 1 0 10.4 0a5.2 5.2 0 1 0 -10.4 0z" fill="none" stroke="#0b62cf" stroke-width="1.5"/>
<path d="M627.6 517.8h37.3" stroke="#0b62cf" stroke-width="1.8" fill="none"/>
<path d="M641 517.8a5.2 5.2 0 1 0 10.4 0a5.2 5.2 0 1 0 -10.4 0z" fill="none" stroke="#0b62cf" stroke-width="1.5"/>
<text x="606.4" y="527.5" font-size="26.8" text-anchor="end" textLength="111" lengthAdjust="spacingAndGlyphs">10°N 30°E</text>
<polyline points="139.5,497.1 147.3,495.4 155,491.2 162.8,492.2 170.6,493.7 178.4,492.2 186.2,489.1 194,492.2 201.7,497.1 209.5,493.7 217.3,500.3 225.1,507.1 232.9,508.1 240.7,513.4 248.4,538.8 256.2,551.5 264,595.9 271.8,656.2 279.6,650.9 287.4,650.9 295.1,646.7 302.9,652 310.7,647.7 318.5,643.5 326.3,632.9 334.1,635 341.9,625.5 349.6,612.8 357.4,589.6 365.2,568.4 373,546.2 380.8,533.5 388.6,519.7 396.3,504.9 404.1,498.6 411.9,501.8 419.7,495.4" fill="none" stroke="#c9302f" stroke-width="1.8" stroke-linejoin="round"/>
<path d="M139.5 490.9l5.5 9.6h-11zM147.3 489.2l5.5 9.6h-11zM155 485l5.5 9.6h-11zM162.8 486l5.5 9.6h-11zM170.6 487.5l5.5 9.6h-11zM178.4 486l5.5 9.6h-11zM186.2 482.9l5.5 9.6h-11zM194 486l5.5 9.6h-11zM201.7 490.9l5.5 9.6h-11zM209.5 487.5l5.5 9.6h-11zM217.3 494.1l5.5 9.6h-11zM225.1 500.9l5.5 9.6h-11zM232.9 501.9l5.5 9.6h-11zM240.7 507.2l5.5 9.6h-11zM248.4 532.6l5.5 9.6h-11zM256.2 545.3l5.5 9.6h-11zM264 589.7l5.5 9.6h-11zM271.8 650l5.5 9.6h-11zM279.6 644.7l5.5 9.6h-11zM287.4 644.7l5.5 9.6h-11zM295.1 640.5l5.5 9.6h-11zM302.9 645.8l5.5 9.6h-11zM310.7 641.5l5.5 9.6h-11zM318.5 637.3l5.5 9.6h-11zM326.3 626.7l5.5 9.6h-11zM334.1 628.8l5.5 9.6h-11zM341.9 619.3l5.5 9.6h-11zM349.6 606.6l5.5 9.6h-11zM357.4 583.4l5.5 9.6h-11zM365.2 562.2l5.5 9.6h-11zM373 540l5.5 9.6h-11zM380.8 527.3l5.5 9.6h-11zM388.6 513.5l5.5 9.6h-11zM396.3 498.7l5.5 9.6h-11zM404.1 492.4l5.5 9.6h-11zM411.9 495.6l5.5 9.6h-11zM419.7 489.2l5.5 9.6h-11z" fill="none" stroke="#c9302f" stroke-width="1.5"/>
<path d="M627.6 560.5h37.3" stroke="#c9302f" stroke-width="1.8" fill="none"/>
<path d="M646.2 554.3l5.5 9.6h-11z" fill="none" stroke="#c9302f" stroke-width="1.5"/>
<text x="606.4" y="570.2" font-size="26.8" text-anchor="end" textLength="111" lengthAdjust="spacingAndGlyphs">20°N 90°E</text>
<polyline points="139.5,498.6 147.3,500.3 155,501.8 162.8,500.3 170.6,501.8 178.4,501.8 186.2,503.5 194,501.8 201.7,500.3 209.5,500.3 217.3,501.8 225.1,508.1 232.9,511.3 240.7,515.5 248.4,528.8 256.2,529.3 264,531 271.8,533.5 279.6,550.4 287.4,575.8 295.1,586.4 302.9,600.1 310.7,610.7 318.5,613.9 326.3,617.1 334.1,615.6 341.9,613.9 349.6,610.7 357.4,605.4 365.2,600.1 373,573.7 380.8,555.7 388.6,536.7 396.3,524 404.1,511.3 411.9,504.9 419.7,501.8" fill="none" stroke="#2e9b2e" stroke-width="1.8" stroke-linejoin="round"/>
<path d="M139.5 504.8l5.5 -9.6h-11zM147.3 506.5l5.5 -9.6h-11zM155 508l5.5 -9.6h-11zM162.8 506.5l5.5 -9.6h-11zM170.6 508l5.5 -9.6h-11zM178.4 508l5.5 -9.6h-11zM186.2 509.7l5.5 -9.6h-11zM194 508l5.5 -9.6h-11zM201.7 506.5l5.5 -9.6h-11zM209.5 506.5l5.5 -9.6h-11zM217.3 508l5.5 -9.6h-11zM225.1 514.3l5.5 -9.6h-11zM232.9 517.5l5.5 -9.6h-11zM240.7 521.7l5.5 -9.6h-11zM248.4 535l5.5 -9.6h-11zM256.2 535.5l5.5 -9.6h-11zM264 537.2l5.5 -9.6h-11zM271.8 539.7l5.5 -9.6h-11zM279.6 556.6l5.5 -9.6h-11zM287.4 582l5.5 -9.6h-11zM295.1 592.6l5.5 -9.6h-11zM302.9 606.3l5.5 -9.6h-11zM310.7 616.9l5.5 -9.6h-11zM318.5 620.1l5.5 -9.6h-11zM326.3 623.3l5.5 -9.6h-11zM334.1 621.8l5.5 -9.6h-11zM341.9 620.1l5.5 -9.6h-11zM349.6 616.9l5.5 -9.6h-11zM357.4 611.6l5.5 -9.6h-11zM365.2 606.3l5.5 -9.6h-11zM373 579.9l5.5 -9.6h-11zM380.8 561.9l5.5 -9.6h-11zM388.6 542.9l5.5 -9.6h-11zM396.3 530.2l5.5 -9.6h-11zM404.1 517.5l5.5 -9.6h-11zM411.9 511.1l5.5 -9.6h-11zM419.7 508l5.5 -9.6h-11z" fill="none" stroke="#2e9b2e" stroke-width="1.5"/>
<path d="M627.6 603.2h37.3" stroke="#2e9b2e" stroke-width="1.8" fill="none"/>
<path d="M646.2 609.4l5.5 -9.6h-11z" fill="none" stroke="#2e9b2e" stroke-width="1.5"/>
<text x="606.4" y="612.9" font-size="26.8" text-anchor="end" textLength="125" lengthAdjust="spacingAndGlyphs">15°N 150°E</text>
<text x="280.8" y="424" font-size="29.5" text-anchor="middle" font-weight="bold" textLength="151.1" lengthAdjust="spacingAndGlyphs">(b) NH (#1)</text>
<text x="161.5" y="699.6" font-size="26.8" text-anchor="middle" textLength="10.1" lengthAdjust="spacingAndGlyphs">J</text>
<text x="183.3" y="699.6" font-size="26.8" text-anchor="middle" textLength="13.3" lengthAdjust="spacingAndGlyphs">F</text>
<text x="207.5" y="699.6" font-size="26.8" text-anchor="middle" textLength="22" lengthAdjust="spacingAndGlyphs">M</text>
<text x="230.8" y="699.6" font-size="26.8" text-anchor="middle" textLength="16.8" lengthAdjust="spacingAndGlyphs">A</text>
<text x="254.9" y="699.6" font-size="26.8" text-anchor="middle" textLength="22" lengthAdjust="spacingAndGlyphs">M</text>
<text x="278.3" y="699.6" font-size="26.8" text-anchor="middle" textLength="10.1" lengthAdjust="spacingAndGlyphs">J</text>
<text x="302.4" y="699.6" font-size="26.8" text-anchor="middle" textLength="10.1" lengthAdjust="spacingAndGlyphs">J</text>
<text x="326.5" y="699.6" font-size="26.8" text-anchor="middle" textLength="16.8" lengthAdjust="spacingAndGlyphs">A</text>
<text x="349.9" y="699.6" font-size="26.8" text-anchor="middle" textLength="13.5" lengthAdjust="spacingAndGlyphs">S</text>
<text x="374" y="699.6" font-size="26.8" text-anchor="middle" textLength="18.9" lengthAdjust="spacingAndGlyphs">O</text>
<text x="397.4" y="699.6" font-size="26.8" text-anchor="middle" textLength="18" lengthAdjust="spacingAndGlyphs">N</text>
<text x="421.5" y="699.6" font-size="26.8" text-anchor="middle" textLength="18.2" lengthAdjust="spacingAndGlyphs">D</text>
<text x="280.1" y="742" font-size="26.8" text-anchor="middle" textLength="76.6" lengthAdjust="spacingAndGlyphs">Month</text>
<text x="116.4" y="655.6" font-size="26.8" text-anchor="end" textLength="42.2" lengthAdjust="spacingAndGlyphs">200</text>
<text x="116.4" y="575.6" font-size="26.8" text-anchor="end" textLength="42.2" lengthAdjust="spacingAndGlyphs">250</text>
<text x="116.4" y="495.5" font-size="26.8" text-anchor="end" textLength="42.2" lengthAdjust="spacingAndGlyphs">300</text>
<g transform="translate(35.2 636.3) rotate(-90)">
<text x="-0.8" y="0" font-size="26.8" font-style="italic" textLength="45.5" lengthAdjust="spacingAndGlyphs">OLR</text>
<text x="44.6" y="12" font-size="19.5" font-style="italic" textLength="33.2" lengthAdjust="spacingAndGlyphs">clim</text>
<text x="79.3" y="0" font-size="26.8" textLength="57" lengthAdjust="spacingAndGlyphs">(W m</text>
<text x="137.6" y="-9.5" font-size="19" textLength="14.3" lengthAdjust="spacingAndGlyphs">-2</text>
<text x="151" y="0" font-size="26.8" textLength="7" lengthAdjust="spacingAndGlyphs">)</text>
<text x="0" y="0" font-size="43" font-family="&quot;Liberation Sans&quot;, &quot;Noto Serif CJK SC&quot;, serif" transform="translate(-1.5 -22.4) scale(1 0.5)">〜</text>
</g>
</g>
<g>
<path d="M831.4 453.6V661.8M853.2 453.6V661.8M877.4 453.6V661.8M900.7 453.6V661.8M924.8 453.6V661.8M948.2 453.6V661.8M972.3 453.6V661.8M996.4 453.6V661.8M1019.8 453.6V661.8M1043.9 453.6V661.8M1067.3 453.6V661.8M1091.4 453.6V661.8M807.3 646H1091.4M807.3 566H1091.4M807.3 485.9H1091.4" stroke="#9a9a9a" stroke-width="1" stroke-dasharray="0.9 2.7" fill="none"/>
<path d="M831.4 661.8v-7.5M831.4 453.6v1.6M853.2 661.8v-7.5M853.2 453.6v1.6M877.4 661.8v-7.5M877.4 453.6v1.6M900.7 661.8v-7.5M900.7 453.6v1.6M924.8 661.8v-7.5M924.8 453.6v1.6M948.2 661.8v-7.5M948.2 453.6v1.6M972.3 661.8v-7.5M972.3 453.6v1.6M996.4 661.8v-7.5M996.4 453.6v1.6M1019.8 661.8v-7.5M1019.8 453.6v1.6M1043.9 661.8v-7.5M1043.9 453.6v1.6M1067.3 661.8v-7.5M1067.3 453.6v1.6M1091.4 661.8v-7.5M1091.4 453.6v1.6M807.3 646h7.5M1091.4 646h-7.5M807.3 630h4M1091.4 630h-4M807.3 614h4M1091.4 614h-4M807.3 598h4M1091.4 598h-4M807.3 582h4M1091.4 582h-4M807.3 566h7.5M1091.4 566h-7.5M807.3 550h4M1091.4 550h-4M807.3 533.9h4M1091.4 533.9h-4M807.3 517.9h4M1091.4 517.9h-4M807.3 501.9h4M1091.4 501.9h-4M807.3 485.9h7.5M1091.4 485.9h-7.5M807.3 469.9h4M1091.4 469.9h-4M807.3 453.9h4M1091.4 453.9h-4M807.3 453.6h2.5" stroke="#2a2a2a" stroke-width="1.2" fill="none"/>
<path d="M807.3 453.6V661.8H1091.4" stroke="#2a2a2a" stroke-width="1.3" fill="none"/>
<polyline points="808.1,577.2 809.6,578.9 811.2,576.5 812.7,579.7 814.3,577.5 815.9,578.2 817.4,581.7 819,580.9 820.5,584.7 822.1,584.2 823.6,586.2 825.2,587.3 826.8,585.6 828.3,583.4 829.9,586.9 831.4,585.4 833,583.7 834.5,581.5 836.1,582.9 837.7,583.2 839.2,581.2 840.8,584.1 842.3,579.5 843.9,582 845.4,582.3 847,580.8 848.6,580.6 850.1,577.6 851.7,580.4 853.2,577.9 854.8,577.7 856.3,576.3 857.9,573 859.4,573.2 861,570.9 862.6,566.9 864.1,564.7 865.7,565.4 867.2,565.3 868.8,563.3 870.3,563.2 871.9,563.1 873.5,559.5 875,558.9 876.6,560.2 878.1,557.7 879.7,555.4 881.2,551.3 882.8,549.7 884.4,549.6 885.9,545.3 887.5,547.3 889,544.9 890.6,542.3 892.1,544.6 893.7,542 895.3,543.7 896.8,539.8 898.4,538.7 899.9,539.1 901.5,538.1 903,539.7 904.6,537.8 906.2,538.3 907.7,538.4 909.3,538.9 910.8,534.1 912.4,530.6 913.9,530 915.5,526.1 917,524.8 918.6,521.7 920.2,520.7 921.7,517.6 923.3,517.3 924.8,518 926.4,517.4 927.9,515.1 929.5,517.5 931.1,514.4 932.6,514 934.2,514.7 935.7,514.4 937.3,510.1 938.8,512.8 940.4,510.7 942,510.4 943.5,507.5 945.1,511.1 946.6,508.8 948.2,508 949.7,505.1 951.3,504.4 952.9,503.1 954.4,505 956,503 957.5,503.3 959.1,500.4 960.6,499.8 962.2,503.8 963.7,502.4 965.3,503.1 966.9,503.1 968.4,501.8 970,501.3 971.5,502.2 973.1,504.3 974.6,502.2 976.2,502.4 977.8,501.4 979.3,500.9 980.9,500.6 982.4,501.3 984,500.5 985.5,500 987.1,501.6 988.7,498.5 990.2,498.9 991.8,498.2 993.3,498.3 994.9,499.9 996.4,500.8 998,503 999.6,500.9 1001.1,504.4 1002.7,503.7 1004.2,505.2 1005.8,506.2 1007.3,506.2 1008.9,508.5 1010.5,508 1012,509.3 1013.6,509.9 1015.1,509 1016.7,511.2 1018.2,508.5 1019.8,510.5 1021.3,514.8 1022.9,516.2 1024.5,517.6 1026,519 1027.6,521.7 1029.1,519 1030.7,519.3 1032.2,523.1 1033.8,524 1035.4,527.6 1036.9,529 1038.5,529.2 1040,531.1 1041.6,530.8 1043.1,534 1044.7,535.5 1046.3,531.6 1047.8,534.6 1049.4,536.3 1050.9,537.5 1052.5,542.3 1054,541.8 1055.6,541.6 1057.2,545.5 1058.7,547.1 1060.3,551.2 1061.8,552.6 1063.4,555.5 1064.9,555.2 1066.5,557.7 1068,558.5 1069.6,562.9 1071.2,565.6 1072.7,565.7 1074.3,564.9 1075.8,566.6 1077.4,567.9 1078.9,568.9 1080.5,571.1 1082.1,574 1083.6,573.6 1085.2,575.5 1086.7,578.2 1088.3,576.9" fill="none" stroke="#000000" stroke-width="1.1" stroke-linejoin="round"/>
<path d="M802.9 571.7h10.4v10.4h-10.4zM810.7 572.7h10.4v10.4h-10.4zM818.4 580.1h10.4v10.4h-10.4zM826.2 579.7h10.4v10.4h-10.4zM834 577h10.4v10.4h-10.4zM841.8 574.8h10.4v10.4h-10.4zM849.6 572.7h10.4v10.4h-10.4zM857.4 561.1h10.4v10.4h-10.4zM865.1 557.9h10.4v10.4h-10.4zM872.9 552.6h10.4v10.4h-10.4zM880.7 541h10.4v10.4h-10.4zM888.5 536.8h10.4v10.4h-10.4zM896.3 533.6h10.4v10.4h-10.4zM904.1 533.6h10.4v10.4h-10.4zM911.8 518.8h10.4v10.4h-10.4zM919.6 512.4h10.4v10.4h-10.4zM927.4 508.2h10.4v10.4h-10.4zM935.2 505h10.4v10.4h-10.4zM943 502.9h10.4v10.4h-10.4zM950.8 497.6h10.4v10.4h-10.4zM958.5 496.6h10.4v10.4h-10.4zM966.3 496.6h10.4v10.4h-10.4zM974.1 496.6h10.4v10.4h-10.4zM981.9 495.5h10.4v10.4h-10.4zM989.7 494.5h10.4v10.4h-10.4zM997.5 497.6h10.4v10.4h-10.4zM1005.3 501.9h10.4v10.4h-10.4zM1013 504h10.4v10.4h-10.4zM1020.8 513.5h10.4v10.4h-10.4zM1028.6 518.8h10.4v10.4h-10.4zM1036.4 526.2h10.4v10.4h-10.4zM1044.2 530.4h10.4v10.4h-10.4zM1052 541h10.4v10.4h-10.4zM1059.7 550.5h10.4v10.4h-10.4zM1067.5 561.1h10.4v10.4h-10.4zM1075.3 566.4h10.4v10.4h-10.4zM1083.1 571.7h10.4v10.4h-10.4z" fill="none" stroke="#000000" stroke-width="1.1"/>
<path d="M1297.4 475.1h37.3" stroke="#000000" stroke-width="1.1" fill="none"/>
<path d="M1310.8 469.9h10.4v10.4h-10.4z" fill="none" stroke="#000000" stroke-width="1.1"/>
<text x="1276.2" y="484.8" font-size="26.8" text-anchor="end" textLength="130.2" lengthAdjust="spacingAndGlyphs">15°S 150°W</text>
<polyline points="808.1,634 815.9,639.3 823.6,636.1 831.4,635 839.2,639.3 847,644.6 854.8,644.6 862.6,634 870.3,632.9 878.1,629.8 885.9,619.2 893.7,606.5 901.5,589.6 909.3,577.9 917,564.2 924.8,549.4 932.6,531.4 940.4,521.9 948.2,518.7 956,511.3 963.7,509.2 971.5,509.2 979.3,508.1 987.1,518.7 994.9,529.3 1002.7,545.1 1010.5,550.4 1018.2,569.5 1026,586.4 1033.8,597 1041.6,608.6 1049.4,618.1 1057.2,629.8 1064.9,639.3 1072.7,639.3 1080.5,634 1088.3,631.9" fill="none" stroke="#0b62cf" stroke-width="1.8" stroke-linejoin="round"/>
<path d="M802.9 634a5.2 5.2 0 1 0 10.4 0a5.2 5.2 0 1 0 -10.4 0zM810.7 639.3a5.2 5.2 0 1 0 10.4 0a5.2 5.2 0 1 0 -10.4 0zM818.4 636.1a5.2 5.2 0 1 0 10.4 0a5.2 5.2 0 1 0 -10.4 0zM826.2 635a5.2 5.2 0 1 0 10.4 0a5.2 5.2 0 1 0 -10.4 0zM834 639.3a5.2 5.2 0 1 0 10.4 0a5.2 5.2 0 1 0 -10.4 0zM841.8 644.6a5.2 5.2 0 1 0 10.4 0a5.2 5.2 0 1 0 -10.4 0zM849.6 644.6a5.2 5.2 0 1 0 10.4 0a5.2 5.2 0 1 0 -10.4 0zM857.4 634a5.2 5.2 0 1 0 10.4 0a5.2 5.2 0 1 0 -10.4 0zM865.1 632.9a5.2 5.2 0 1 0 10.4 0a5.2 5.2 0 1 0 -10.4 0zM872.9 629.8a5.2 5.2 0 1 0 10.4 0a5.2 5.2 0 1 0 -10.4 0zM880.7 619.2a5.2 5.2 0 1 0 10.4 0a5.2 5.2 0 1 0 -10.4 0zM888.5 606.5a5.2 5.2 0 1 0 10.4 0a5.2 5.2 0 1 0 -10.4 0zM896.3 589.6a5.2 5.2 0 1 0 10.4 0a5.2 5.2 0 1 0 -10.4 0zM904.1 577.9a5.2 5.2 0 1 0 10.4 0a5.2 5.2 0 1 0 -10.4 0zM911.8 564.2a5.2 5.2 0 1 0 10.4 0a5.2 5.2 0 1 0 -10.4 0zM919.6 549.4a5.2 5.2 0 1 0 10.4 0a5.2 5.2 0 1 0 -10.4 0zM927.4 531.4a5.2 5.2 0 1 0 10.4 0a5.2 5.2 0 1 0 -10.4 0zM935.2 521.9a5.2 5.2 0 1 0 10.4 0a5.2 5.2 0 1 0 -10.4 0zM943 518.7a5.2 5.2 0 1 0 10.4 0a5.2 5.2 0 1 0 -10.4 0zM950.8 511.3a5.2 5.2 0 1 0 10.4 0a5.2 5.2 0 1 0 -10.4 0zM958.5 509.2a5.2 5.2 0 1 0 10.4 0a5.2 5.2 0 1 0 -10.4 0zM966.3 509.2a5.2 5.2 0 1 0 10.4 0a5.2 5.2 0 1 0 -10.4 0zM974.1 508.1a5.2 5.2 0 1 0 10.4 0a5.2 5.2 0 1 0 -10.4 0zM981.9 518.7a5.2 5.2 0 1 0 10.4 0a5.2 5.2 0 1 0 -10.4 0zM989.7 529.3a5.2 5.2 0 1 0 10.4 0a5.2 5.2 0 1 0 -10.4 0zM997.5 545.1a5.2 5.2 0 1 0 10.4 0a5.2 5.2 0 1 0 -10.4 0zM1005.3 550.4a5.2 5.2 0 1 0 10.4 0a5.2 5.2 0 1 0 -10.4 0zM1013 569.5a5.2 5.2 0 1 0 10.4 0a5.2 5.2 0 1 0 -10.4 0zM1020.8 586.4a5.2 5.2 0 1 0 10.4 0a5.2 5.2 0 1 0 -10.4 0zM1028.6 597a5.2 5.2 0 1 0 10.4 0a5.2 5.2 0 1 0 -10.4 0zM1036.4 608.6a5.2 5.2 0 1 0 10.4 0a5.2 5.2 0 1 0 -10.4 0zM1044.2 618.1a5.2 5.2 0 1 0 10.4 0a5.2 5.2 0 1 0 -10.4 0zM1052 629.8a5.2 5.2 0 1 0 10.4 0a5.2 5.2 0 1 0 -10.4 0zM1059.7 639.3a5.2 5.2 0 1 0 10.4 0a5.2 5.2 0 1 0 -10.4 0zM1067.5 639.3a5.2 5.2 0 1 0 10.4 0a5.2 5.2 0 1 0 -10.4 0zM1075.3 634a5.2 5.2 0 1 0 10.4 0a5.2 5.2 0 1 0 -10.4 0zM1083.1 631.9a5.2 5.2 0 1 0 10.4 0a5.2 5.2 0 1 0 -10.4 0z" fill="none" stroke="#0b62cf" stroke-width="1.5"/>
<path d="M1297.4 517.8h37.3" stroke="#0b62cf" stroke-width="1.8" fill="none"/>
<path d="M1310.8 517.8a5.2 5.2 0 1 0 10.4 0a5.2 5.2 0 1 0 -10.4 0z" fill="none" stroke="#0b62cf" stroke-width="1.5"/>
<text x="1276.2" y="527.5" font-size="26.8" text-anchor="end" textLength="116.1" lengthAdjust="spacingAndGlyphs">10°S 60°W</text>
<polyline points="808.1,650.9 815.9,654.1 823.6,656.2 831.4,656.2 839.2,650.9 847,643.5 854.8,640.3 862.6,630.8 870.3,616 878.1,599.1 885.9,577.9 893.7,552.5 901.5,533.5 909.3,524 917,518.7 924.8,514.5 932.6,513.4 940.4,513 948.2,513 956,512.3 963.7,511.9 971.5,512.3 979.3,511.3 987.1,510.2 994.9,507.1 1002.7,511.3 1010.5,517.6 1018.2,518.7 1026,530.3 1033.8,542 1041.6,548.3 1049.4,568.4 1057.2,587.4 1064.9,608.6 1072.7,617.1 1080.5,637.2 1088.3,644.6" fill="none" stroke="#c9302f" stroke-width="1.8" stroke-linejoin="round"/>
<path d="M808.1 644.7l5.5 9.6h-11zM815.9 647.9l5.5 9.6h-11zM823.6 650l5.5 9.6h-11zM831.4 650l5.5 9.6h-11zM839.2 644.7l5.5 9.6h-11zM847 637.3l5.5 9.6h-11zM854.8 634.1l5.5 9.6h-11zM862.6 624.6l5.5 9.6h-11zM870.3 609.8l5.5 9.6h-11zM878.1 592.9l5.5 9.6h-11zM885.9 571.7l5.5 9.6h-11zM893.7 546.3l5.5 9.6h-11zM901.5 527.3l5.5 9.6h-11zM909.3 517.8l5.5 9.6h-11zM917 512.5l5.5 9.6h-11zM924.8 508.3l5.5 9.6h-11zM932.6 507.2l5.5 9.6h-11zM940.4 506.8l5.5 9.6h-11zM948.2 506.8l5.5 9.6h-11zM956 506.1l5.5 9.6h-11zM963.7 505.7l5.5 9.6h-11zM971.5 506.1l5.5 9.6h-11zM979.3 505.1l5.5 9.6h-11zM987.1 504l5.5 9.6h-11zM994.9 500.9l5.5 9.6h-11zM1002.7 505.1l5.5 9.6h-11zM1010.5 511.4l5.5 9.6h-11zM1018.2 512.5l5.5 9.6h-11zM1026 524.1l5.5 9.6h-11zM1033.8 535.8l5.5 9.6h-11zM1041.6 542.1l5.5 9.6h-11zM1049.4 562.2l5.5 9.6h-11zM1057.2 581.2l5.5 9.6h-11zM1064.9 602.4l5.5 9.6h-11zM1072.7 610.9l5.5 9.6h-11zM1080.5 631l5.5 9.6h-11zM1088.3 638.4l5.5 9.6h-11z" fill="none" stroke="#c9302f" stroke-width="1.5"/>
<path d="M1297.4 560.5h37.3" stroke="#c9302f" stroke-width="1.8" fill="none"/>
<path d="M1316 554.3l5.5 9.6h-11z" fill="none" stroke="#c9302f" stroke-width="1.5"/>
<text x="1276.2" y="570.2" font-size="26.8" text-anchor="end" textLength="106.4" lengthAdjust="spacingAndGlyphs">10°S 30°E</text>
<polyline points="808.1,598 815.9,600.1 823.6,616 831.4,622.4 839.2,613.9 847,604.4 854.8,608.6 862.6,593.8 870.3,573.7 878.1,567.4 885.9,562.1 893.7,533.5 901.5,514.5 909.3,508.1 917,510.2 924.8,509.2 932.6,507.1 940.4,504.9 948.2,503.9 956,500.7 963.7,498.6 971.5,496.5 979.3,496.5 987.1,496.5 994.9,493.3 1002.7,492.2 1010.5,493.3 1018.2,494.4 1026,497.5 1033.8,502.8 1041.6,502.8 1049.4,512.3 1057.2,527.2 1064.9,553.6 1072.7,581.1 1080.5,591.7 1088.3,597" fill="none" stroke="#2e9b2e" stroke-width="1.8" stroke-linejoin="round"/>
<path d="M808.1 604.2l5.5 -9.6h-11zM815.9 606.3l5.5 -9.6h-11zM823.6 622.2l5.5 -9.6h-11zM831.4 628.6l5.5 -9.6h-11zM839.2 620.1l5.5 -9.6h-11zM847 610.6l5.5 -9.6h-11zM854.8 614.8l5.5 -9.6h-11zM862.6 600l5.5 -9.6h-11zM870.3 579.9l5.5 -9.6h-11zM878.1 573.6l5.5 -9.6h-11zM885.9 568.3l5.5 -9.6h-11zM893.7 539.7l5.5 -9.6h-11zM901.5 520.7l5.5 -9.6h-11zM909.3 514.3l5.5 -9.6h-11zM917 516.4l5.5 -9.6h-11zM924.8 515.4l5.5 -9.6h-11zM932.6 513.3l5.5 -9.6h-11zM940.4 511.1l5.5 -9.6h-11zM948.2 510.1l5.5 -9.6h-11zM956 506.9l5.5 -9.6h-11zM963.7 504.8l5.5 -9.6h-11zM971.5 502.7l5.5 -9.6h-11zM979.3 502.7l5.5 -9.6h-11zM987.1 502.7l5.5 -9.6h-11zM994.9 499.5l5.5 -9.6h-11zM1002.7 498.4l5.5 -9.6h-11zM1010.5 499.5l5.5 -9.6h-11zM1018.2 500.6l5.5 -9.6h-11zM1026 503.7l5.5 -9.6h-11zM1033.8 509l5.5 -9.6h-11zM1041.6 509l5.5 -9.6h-11zM1049.4 518.5l5.5 -9.6h-11zM1057.2 533.4l5.5 -9.6h-11zM1064.9 559.8l5.5 -9.6h-11zM1072.7 587.3l5.5 -9.6h-11zM1080.5 597.9l5.5 -9.6h-11zM1088.3 603.2l5.5 -9.6h-11z" fill="none" stroke="#2e9b2e" stroke-width="1.5"/>
<path d="M1297.4 603.2h37.3" stroke="#2e9b2e" stroke-width="1.8" fill="none"/>
<path d="M1316 609.4l5.5 -9.6h-11z" fill="none" stroke="#2e9b2e" stroke-width="1.5"/>
<text x="1276.2" y="612.9" font-size="26.8" text-anchor="end" textLength="120.5" lengthAdjust="spacingAndGlyphs">10°S 120°E</text>
<polyline points="808.1,517 815.9,520.8 823.6,521.9 831.4,519.1 839.2,515.5 847,513.4 854.8,508.1 862.6,501.8 870.3,497.5 878.1,488 885.9,484.8 893.7,478.5 901.5,475.3 909.3,473.8 917,472.6 924.8,473.2 932.6,466.9 940.4,456.9 948.2,460.5 956,467.9 963.7,476.4 971.5,483.8 979.3,491.2 987.1,485.9 994.9,481.7 1002.7,480.2 1010.5,479.6 1018.2,481 1026,480.6 1033.8,481 1041.6,483.8 1049.4,486.5 1057.2,490.1 1064.9,498.6 1072.7,504.9 1080.5,512.3 1088.3,516.6" fill="none" stroke="#f660c8" stroke-width="1.8" stroke-linejoin="round"/>
<path d="M808.1 511.3l5.7 5.7l-5.7 5.7l-5.7 -5.7zM815.9 515.1l5.7 5.7l-5.7 5.7l-5.7 -5.7zM823.6 516.2l5.7 5.7l-5.7 5.7l-5.7 -5.7zM831.4 513.4l5.7 5.7l-5.7 5.7l-5.7 -5.7zM839.2 509.8l5.7 5.7l-5.7 5.7l-5.7 -5.7zM847 507.7l5.7 5.7l-5.7 5.7l-5.7 -5.7zM854.8 502.4l5.7 5.7l-5.7 5.7l-5.7 -5.7zM862.6 496.1l5.7 5.7l-5.7 5.7l-5.7 -5.7zM870.3 491.8l5.7 5.7l-5.7 5.7l-5.7 -5.7zM878.1 482.3l5.7 5.7l-5.7 5.7l-5.7 -5.7zM885.9 479.1l5.7 5.7l-5.7 5.7l-5.7 -5.7zM893.7 472.8l5.7 5.7l-5.7 5.7l-5.7 -5.7zM901.5 469.6l5.7 5.7l-5.7 5.7l-5.7 -5.7zM909.3 468.1l5.7 5.7l-5.7 5.7l-5.7 -5.7zM917 466.9l5.7 5.7l-5.7 5.7l-5.7 -5.7zM924.8 467.5l5.7 5.7l-5.7 5.7l-5.7 -5.7zM932.6 461.2l5.7 5.7l-5.7 5.7l-5.7 -5.7zM940.4 451.2l5.7 5.7l-5.7 5.7l-5.7 -5.7zM948.2 454.8l5.7 5.7l-5.7 5.7l-5.7 -5.7zM956 462.2l5.7 5.7l-5.7 5.7l-5.7 -5.7zM963.7 470.7l5.7 5.7l-5.7 5.7l-5.7 -5.7zM971.5 478.1l5.7 5.7l-5.7 5.7l-5.7 -5.7zM979.3 485.5l5.7 5.7l-5.7 5.7l-5.7 -5.7zM987.1 480.2l5.7 5.7l-5.7 5.7l-5.7 -5.7zM994.9 476l5.7 5.7l-5.7 5.7l-5.7 -5.7zM1002.7 474.5l5.7 5.7l-5.7 5.7l-5.7 -5.7zM1010.5 473.9l5.7 5.7l-5.7 5.7l-5.7 -5.7zM1018.2 475.3l5.7 5.7l-5.7 5.7l-5.7 -5.7zM1026 474.9l5.7 5.7l-5.7 5.7l-5.7 -5.7zM1033.8 475.3l5.7 5.7l-5.7 5.7l-5.7 -5.7zM1041.6 478.1l5.7 5.7l-5.7 5.7l-5.7 -5.7zM1049.4 480.8l5.7 5.7l-5.7 5.7l-5.7 -5.7zM1057.2 484.4l5.7 5.7l-5.7 5.7l-5.7 -5.7zM1064.9 492.9l5.7 5.7l-5.7 5.7l-5.7 -5.7zM1072.7 499.2l5.7 5.7l-5.7 5.7l-5.7 -5.7zM1080.5 506.6l5.7 5.7l-5.7 5.7l-5.7 -5.7zM1088.3 510.9l5.7 5.7l-5.7 5.7l-5.7 -5.7z" fill="none" stroke="#f660c8" stroke-width="1.5"/>
<path d="M1297.4 645.9h37.3" stroke="#f660c8" stroke-width="1.8" fill="none"/>
<path d="M1316 640.2l5.7 5.7l-5.7 5.7l-5.7 -5.7z" fill="none" stroke="#f660c8" stroke-width="1.5"/>
<text x="1276.2" y="655.6" font-size="26.8" text-anchor="end" textLength="111" lengthAdjust="spacingAndGlyphs">20°N 30°E</text>
<text x="949.4" y="424" font-size="29.5" text-anchor="middle" font-weight="bold" textLength="140.6" lengthAdjust="spacingAndGlyphs">(c) SH (#2)</text>
<text x="830.1" y="699.6" font-size="26.8" text-anchor="middle" textLength="10.1" lengthAdjust="spacingAndGlyphs">J</text>
<text x="851.9" y="699.6" font-size="26.8" text-anchor="middle" textLength="13.3" lengthAdjust="spacingAndGlyphs">F</text>
<text x="876.1" y="699.6" font-size="26.8" text-anchor="middle" textLength="22" lengthAdjust="spacingAndGlyphs">M</text>
<text x="899.4" y="699.6" font-size="26.8" text-anchor="middle" textLength="16.8" lengthAdjust="spacingAndGlyphs">A</text>
<text x="923.5" y="699.6" font-size="26.8" text-anchor="middle" textLength="22" lengthAdjust="spacingAndGlyphs">M</text>
<text x="946.9" y="699.6" font-size="26.8" text-anchor="middle" textLength="10.1" lengthAdjust="spacingAndGlyphs">J</text>
<text x="971" y="699.6" font-size="26.8" text-anchor="middle" textLength="10.1" lengthAdjust="spacingAndGlyphs">J</text>
<text x="995.1" y="699.6" font-size="26.8" text-anchor="middle" textLength="16.8" lengthAdjust="spacingAndGlyphs">A</text>
<text x="1018.5" y="699.6" font-size="26.8" text-anchor="middle" textLength="13.5" lengthAdjust="spacingAndGlyphs">S</text>
<text x="1042.6" y="699.6" font-size="26.8" text-anchor="middle" textLength="18.9" lengthAdjust="spacingAndGlyphs">O</text>
<text x="1066" y="699.6" font-size="26.8" text-anchor="middle" textLength="18" lengthAdjust="spacingAndGlyphs">N</text>
<text x="1090.1" y="699.6" font-size="26.8" text-anchor="middle" textLength="18.2" lengthAdjust="spacingAndGlyphs">D</text>
<text x="948.8" y="742" font-size="26.8" text-anchor="middle" textLength="76.6" lengthAdjust="spacingAndGlyphs">Month</text>
<text x="785" y="655.6" font-size="26.8" text-anchor="end" textLength="42.2" lengthAdjust="spacingAndGlyphs">200</text>
<text x="785" y="575.6" font-size="26.8" text-anchor="end" textLength="42.2" lengthAdjust="spacingAndGlyphs">250</text>
<text x="785" y="495.5" font-size="26.8" text-anchor="end" textLength="42.2" lengthAdjust="spacingAndGlyphs">300</text>
</g>
<g>
<path d="M1500.2 453.6V661.8M1522 453.6V661.8M1546.2 453.6V661.8M1569.5 453.6V661.8M1593.6 453.6V661.8M1617 453.6V661.8M1641.1 453.6V661.8M1665.2 453.6V661.8M1688.6 453.6V661.8M1712.7 453.6V661.8M1736.1 453.6V661.8M1760.2 453.6V661.8M1476.1 646H1760.2M1476.1 566H1760.2M1476.1 485.9H1760.2" stroke="#9a9a9a" stroke-width="1" stroke-dasharray="0.9 2.7" fill="none"/>
<path d="M1500.2 661.8v-7.5M1500.2 453.6v1.6M1522 661.8v-7.5M1522 453.6v1.6M1546.2 661.8v-7.5M1546.2 453.6v1.6M1569.5 661.8v-7.5M1569.5 453.6v1.6M1593.6 661.8v-7.5M1593.6 453.6v1.6M1617 661.8v-7.5M1617 453.6v1.6M1641.1 661.8v-7.5M1641.1 453.6v1.6M1665.2 661.8v-7.5M1665.2 453.6v1.6M1688.6 661.8v-7.5M1688.6 453.6v1.6M1712.7 661.8v-7.5M1712.7 453.6v1.6M1736.1 661.8v-7.5M1736.1 453.6v1.6M1760.2 661.8v-7.5M1760.2 453.6v1.6M1476.1 646h7.5M1760.2 646h-7.5M1476.1 630h4M1760.2 630h-4M1476.1 614h4M1760.2 614h-4M1476.1 598h4M1760.2 598h-4M1476.1 582h4M1760.2 582h-4M1476.1 566h7.5M1760.2 566h-7.5M1476.1 550h4M1760.2 550h-4M1476.1 533.9h4M1760.2 533.9h-4M1476.1 517.9h4M1760.2 517.9h-4M1476.1 501.9h4M1760.2 501.9h-4M1476.1 485.9h7.5M1760.2 485.9h-7.5M1476.1 469.9h4M1760.2 469.9h-4M1476.1 453.9h4M1760.2 453.9h-4M1476.1 453.6h2.5" stroke="#2a2a2a" stroke-width="1.2" fill="none"/>
<path d="M1476.1 453.6V661.8H1760.2" stroke="#2a2a2a" stroke-width="1.3" fill="none"/>
<polyline points="1476.9,511.3 1484.7,508.1 1492.4,508.5 1500.2,506 1508,506.4 1515.8,511.9 1523.6,515.5 1531.4,524 1539.1,531.4 1546.9,534.6 1554.7,533.5 1562.5,530.3 1570.3,527.2 1578.1,526.1 1585.8,521.9 1593.6,516.6 1601.4,514.5 1609.2,524 1617,524 1624.8,516.6 1632.5,516.2 1640.3,524 1648.1,525 1655.9,529.3 1663.7,533.5 1671.5,532.4 1679.3,536.7 1687,537.7 1694.8,545.1 1702.6,550.4 1710.4,556.8 1718.2,550.4 1726,538.8 1733.7,540.9 1741.5,539.4 1749.3,522.9 1757.1,513" fill="none" stroke="#000000" stroke-width="1.8" stroke-linejoin="round"/>
<path d="M1471.7 506.1h10.4v10.4h-10.4zM1479.5 502.9h10.4v10.4h-10.4zM1487.2 503.3h10.4v10.4h-10.4zM1495 500.8h10.4v10.4h-10.4zM1502.8 501.2h10.4v10.4h-10.4zM1510.6 506.7h10.4v10.4h-10.4zM1518.4 510.3h10.4v10.4h-10.4zM1526.2 518.8h10.4v10.4h-10.4zM1533.9 526.2h10.4v10.4h-10.4zM1541.7 529.4h10.4v10.4h-10.4zM1549.5 528.3h10.4v10.4h-10.4zM1557.3 525.1h10.4v10.4h-10.4zM1565.1 522h10.4v10.4h-10.4zM1572.9 520.9h10.4v10.4h-10.4zM1580.6 516.7h10.4v10.4h-10.4zM1588.4 511.4h10.4v10.4h-10.4zM1596.2 509.3h10.4v10.4h-10.4zM1604 518.8h10.4v10.4h-10.4zM1611.8 518.8h10.4v10.4h-10.4zM1619.6 511.4h10.4v10.4h-10.4zM1627.3 511h10.4v10.4h-10.4zM1635.1 518.8h10.4v10.4h-10.4zM1642.9 519.8h10.4v10.4h-10.4zM1650.7 524.1h10.4v10.4h-10.4zM1658.5 528.3h10.4v10.4h-10.4zM1666.3 527.2h10.4v10.4h-10.4zM1674.1 531.5h10.4v10.4h-10.4zM1681.8 532.5h10.4v10.4h-10.4zM1689.6 539.9h10.4v10.4h-10.4zM1697.4 545.2h10.4v10.4h-10.4zM1705.2 551.6h10.4v10.4h-10.4zM1713 545.2h10.4v10.4h-10.4zM1720.8 533.6h10.4v10.4h-10.4zM1728.5 535.7h10.4v10.4h-10.4zM1736.3 534.2h10.4v10.4h-10.4zM1744.1 517.7h10.4v10.4h-10.4zM1751.9 507.8h10.4v10.4h-10.4z" fill="none" stroke="#000000" stroke-width="1.5"/>
<path d="M1966.4 475.1h37.3" stroke="#000000" stroke-width="1.8" fill="none"/>
<path d="M1979.8 469.9h10.4v10.4h-10.4z" fill="none" stroke="#000000" stroke-width="1.5"/>
<text x="1945.2" y="484.8" font-size="26.8" text-anchor="end" textLength="134.7" lengthAdjust="spacingAndGlyphs">15°N 160°W</text>
<polyline points="1476.9,533.1 1484.7,528.2 1492.4,528.8 1500.2,528.8 1508,528.2 1515.8,530.3 1523.6,528.2 1531.4,527.6 1539.1,533.5 1546.9,540.9 1554.7,538.8 1562.5,539.8 1570.3,539.8 1578.1,538.8 1585.8,542 1593.6,539.8 1601.4,539.8 1609.2,543 1617,542 1624.8,554.7 1632.5,558.9 1640.3,569.5 1648.1,579 1655.9,586.4 1663.7,589.6 1671.5,586.4 1679.3,582.2 1687,586.4 1694.8,584.3 1702.6,585.3 1710.4,584.3 1718.2,582.2 1726,584.3 1733.7,579 1741.5,572.6 1749.3,553.6 1757.1,539.8" fill="none" stroke="#0b62cf" stroke-width="1.8" stroke-linejoin="round"/>
<path d="M1471.7 533.1a5.2 5.2 0 1 0 10.4 0a5.2 5.2 0 1 0 -10.4 0zM1479.5 528.2a5.2 5.2 0 1 0 10.4 0a5.2 5.2 0 1 0 -10.4 0zM1487.2 528.8a5.2 5.2 0 1 0 10.4 0a5.2 5.2 0 1 0 -10.4 0zM1495 528.8a5.2 5.2 0 1 0 10.4 0a5.2 5.2 0 1 0 -10.4 0zM1502.8 528.2a5.2 5.2 0 1 0 10.4 0a5.2 5.2 0 1 0 -10.4 0zM1510.6 530.3a5.2 5.2 0 1 0 10.4 0a5.2 5.2 0 1 0 -10.4 0zM1518.4 528.2a5.2 5.2 0 1 0 10.4 0a5.2 5.2 0 1 0 -10.4 0zM1526.2 527.6a5.2 5.2 0 1 0 10.4 0a5.2 5.2 0 1 0 -10.4 0zM1533.9 533.5a5.2 5.2 0 1 0 10.4 0a5.2 5.2 0 1 0 -10.4 0zM1541.7 540.9a5.2 5.2 0 1 0 10.4 0a5.2 5.2 0 1 0 -10.4 0zM1549.5 538.8a5.2 5.2 0 1 0 10.4 0a5.2 5.2 0 1 0 -10.4 0zM1557.3 539.8a5.2 5.2 0 1 0 10.4 0a5.2 5.2 0 1 0 -10.4 0zM1565.1 539.8a5.2 5.2 0 1 0 10.4 0a5.2 5.2 0 1 0 -10.4 0zM1572.9 538.8a5.2 5.2 0 1 0 10.4 0a5.2 5.2 0 1 0 -10.4 0zM1580.6 542a5.2 5.2 0 1 0 10.4 0a5.2 5.2 0 1 0 -10.4 0zM1588.4 539.8a5.2 5.2 0 1 0 10.4 0a5.2 5.2 0 1 0 -10.4 0zM1596.2 539.8a5.2 5.2 0 1 0 10.4 0a5.2 5.2 0 1 0 -10.4 0zM1604 543a5.2 5.2 0 1 0 10.4 0a5.2 5.2 0 1 0 -10.4 0zM1611.8 542a5.2 5.2 0 1 0 10.4 0a5.2 5.2 0 1 0 -10.4 0zM1619.6 554.7a5.2 5.2 0 1 0 10.4 0a5.2 5.2 0 1 0 -10.4 0zM1627.3 558.9a5.2 5.2 0 1 0 10.4 0a5.2 5.2 0 1 0 -10.4 0zM1635.1 569.5a5.2 5.2 0 1 0 10.4 0a5.2 5.2 0 1 0 -10.4 0zM1642.9 579a5.2 5.2 0 1 0 10.4 0a5.2 5.2 0 1 0 -10.4 0zM1650.7 586.4a5.2 5.2 0 1 0 10.4 0a5.2 5.2 0 1 0 -10.4 0zM1658.5 589.6a5.2 5.2 0 1 0 10.4 0a5.2 5.2 0 1 0 -10.4 0zM1666.3 586.4a5.2 5.2 0 1 0 10.4 0a5.2 5.2 0 1 0 -10.4 0zM1674.1 582.2a5.2 5.2 0 1 0 10.4 0a5.2 5.2 0 1 0 -10.4 0zM1681.8 586.4a5.2 5.2 0 1 0 10.4 0a5.2 5.2 0 1 0 -10.4 0zM1689.6 584.3a5.2 5.2 0 1 0 10.4 0a5.2 5.2 0 1 0 -10.4 0zM1697.4 585.3a5.2 5.2 0 1 0 10.4 0a5.2 5.2 0 1 0 -10.4 0zM1705.2 584.3a5.2 5.2 0 1 0 10.4 0a5.2 5.2 0 1 0 -10.4 0zM1713 582.2a5.2 5.2 0 1 0 10.4 0a5.2 5.2 0 1 0 -10.4 0zM1720.8 584.3a5.2 5.2 0 1 0 10.4 0a5.2 5.2 0 1 0 -10.4 0zM1728.5 579a5.2 5.2 0 1 0 10.4 0a5.2 5.2 0 1 0 -10.4 0zM1736.3 572.6a5.2 5.2 0 1 0 10.4 0a5.2 5.2 0 1 0 -10.4 0zM1744.1 553.6a5.2 5.2 0 1 0 10.4 0a5.2 5.2 0 1 0 -10.4 0zM1751.9 539.8a5.2 5.2 0 1 0 10.4 0a5.2 5.2 0 1 0 -10.4 0z" fill="none" stroke="#0b62cf" stroke-width="1.5"/>
<path d="M1966.4 517.8h37.3" stroke="#0b62cf" stroke-width="1.8" fill="none"/>
<path d="M1979.8 517.8a5.2 5.2 0 1 0 10.4 0a5.2 5.2 0 1 0 -10.4 0z" fill="none" stroke="#0b62cf" stroke-width="1.5"/>
<text x="1945.2" y="527.5" font-size="26.8" text-anchor="end" textLength="134.7" lengthAdjust="spacingAndGlyphs">10°N 150°W</text>
<polyline points="1476.9,549.4 1484.7,545.1 1492.4,543 1500.2,537.7 1508,539.8 1515.8,539.8 1523.6,542 1531.4,539.4 1539.1,534.6 1546.9,539.8 1554.7,545.1 1562.5,546.2 1570.3,540.9 1578.1,534.6 1585.8,533.5 1593.6,528.2 1601.4,516.6 1609.2,511.3 1617,518.7 1624.8,525 1632.5,538.8 1640.3,545.1 1648.1,557.8 1655.9,555.7 1663.7,551.5 1671.5,542 1679.3,540.9 1687,530.3 1694.8,525 1702.6,535.6 1710.4,538.8 1718.2,539.8 1726,548.3 1733.7,550.4 1741.5,551.5 1749.3,550.4 1757.1,555.7" fill="none" stroke="#c9302f" stroke-width="1.8" stroke-linejoin="round"/>
<path d="M1476.9 543.2l5.5 9.6h-11zM1484.7 538.9l5.5 9.6h-11zM1492.4 536.8l5.5 9.6h-11zM1500.2 531.5l5.5 9.6h-11zM1508 533.6l5.5 9.6h-11zM1515.8 533.6l5.5 9.6h-11zM1523.6 535.8l5.5 9.6h-11zM1531.4 533.2l5.5 9.6h-11zM1539.1 528.4l5.5 9.6h-11zM1546.9 533.6l5.5 9.6h-11zM1554.7 538.9l5.5 9.6h-11zM1562.5 540l5.5 9.6h-11zM1570.3 534.7l5.5 9.6h-11zM1578.1 528.4l5.5 9.6h-11zM1585.8 527.3l5.5 9.6h-11zM1593.6 522l5.5 9.6h-11zM1601.4 510.4l5.5 9.6h-11zM1609.2 505.1l5.5 9.6h-11zM1617 512.5l5.5 9.6h-11zM1624.8 518.8l5.5 9.6h-11zM1632.5 532.6l5.5 9.6h-11zM1640.3 538.9l5.5 9.6h-11zM1648.1 551.6l5.5 9.6h-11zM1655.9 549.5l5.5 9.6h-11zM1663.7 545.3l5.5 9.6h-11zM1671.5 535.8l5.5 9.6h-11zM1679.3 534.7l5.5 9.6h-11zM1687 524.1l5.5 9.6h-11zM1694.8 518.8l5.5 9.6h-11zM1702.6 529.4l5.5 9.6h-11zM1710.4 532.6l5.5 9.6h-11zM1718.2 533.6l5.5 9.6h-11zM1726 542.1l5.5 9.6h-11zM1733.7 544.2l5.5 9.6h-11zM1741.5 545.3l5.5 9.6h-11zM1749.3 544.2l5.5 9.6h-11zM1757.1 549.5l5.5 9.6h-11z" fill="none" stroke="#c9302f" stroke-width="1.5"/>
<path d="M1966.4 560.5h37.3" stroke="#c9302f" stroke-width="1.8" fill="none"/>
<path d="M1985 554.3l5.5 9.6h-11z" fill="none" stroke="#c9302f" stroke-width="1.5"/>
<text x="1945.2" y="570.2" font-size="26.8" text-anchor="end" textLength="134.7" lengthAdjust="spacingAndGlyphs">15°N 130°W</text>
<polyline points="1476.9,562.1 1484.7,555.7 1492.4,552.5 1500.2,547.3 1508,538.8 1515.8,537.7 1523.6,543 1531.4,537.7 1539.1,529.3 1546.9,537.7 1554.7,547.3 1562.5,552.5 1570.3,552.5 1578.1,553.6 1585.8,555.7 1593.6,558.9 1601.4,550.4 1609.2,553.6 1617,570.5 1624.8,581.1 1632.5,591.7 1640.3,598 1648.1,603.3 1655.9,602.3 1663.7,603.3 1671.5,594.9 1679.3,587.4 1687,581.1 1694.8,583.2 1702.6,586.4 1710.4,583.2 1718.2,581.1 1726,589.6 1733.7,585.3 1741.5,577.9 1749.3,571.6 1757.1,567.4" fill="none" stroke="#2e9b2e" stroke-width="1.8" stroke-linejoin="round"/>
<path d="M1476.9 568.3l5.5 -9.6h-11zM1484.7 561.9l5.5 -9.6h-11zM1492.4 558.7l5.5 -9.6h-11zM1500.2 553.5l5.5 -9.6h-11zM1508 545l5.5 -9.6h-11zM1515.8 543.9l5.5 -9.6h-11zM1523.6 549.2l5.5 -9.6h-11zM1531.4 543.9l5.5 -9.6h-11zM1539.1 535.5l5.5 -9.6h-11zM1546.9 543.9l5.5 -9.6h-11zM1554.7 553.5l5.5 -9.6h-11zM1562.5 558.7l5.5 -9.6h-11zM1570.3 558.7l5.5 -9.6h-11zM1578.1 559.8l5.5 -9.6h-11zM1585.8 561.9l5.5 -9.6h-11zM1593.6 565.1l5.5 -9.6h-11zM1601.4 556.6l5.5 -9.6h-11zM1609.2 559.8l5.5 -9.6h-11zM1617 576.7l5.5 -9.6h-11zM1624.8 587.3l5.5 -9.6h-11zM1632.5 597.9l5.5 -9.6h-11zM1640.3 604.2l5.5 -9.6h-11zM1648.1 609.5l5.5 -9.6h-11zM1655.9 608.5l5.5 -9.6h-11zM1663.7 609.5l5.5 -9.6h-11zM1671.5 601.1l5.5 -9.6h-11zM1679.3 593.6l5.5 -9.6h-11zM1687 587.3l5.5 -9.6h-11zM1694.8 589.4l5.5 -9.6h-11zM1702.6 592.6l5.5 -9.6h-11zM1710.4 589.4l5.5 -9.6h-11zM1718.2 587.3l5.5 -9.6h-11zM1726 595.8l5.5 -9.6h-11zM1733.7 591.5l5.5 -9.6h-11zM1741.5 584.1l5.5 -9.6h-11zM1749.3 577.8l5.5 -9.6h-11zM1757.1 573.6l5.5 -9.6h-11z" fill="none" stroke="#2e9b2e" stroke-width="1.5"/>
<path d="M1966.4 603.2h37.3" stroke="#2e9b2e" stroke-width="1.8" fill="none"/>
<path d="M1985 609.4l5.5 -9.6h-11z" fill="none" stroke="#2e9b2e" stroke-width="1.5"/>
<text x="1945.2" y="612.9" font-size="26.8" text-anchor="end" textLength="134.7" lengthAdjust="spacingAndGlyphs">10°N 130°W</text>
<text x="1618.2" y="424" font-size="29.5" text-anchor="middle" font-weight="bold" textLength="187" lengthAdjust="spacingAndGlyphs">(d) NCPO (#3)</text>
<text x="1498.9" y="699.6" font-size="26.8" text-anchor="middle" textLength="10.1" lengthAdjust="spacingAndGlyphs">J</text>
<text x="1520.7" y="699.6" font-size="26.8" text-anchor="middle" textLength="13.3" lengthAdjust="spacingAndGlyphs">F</text>
<text x="1544.9" y="699.6" font-size="26.8" text-anchor="middle" textLength="22" lengthAdjust="spacingAndGlyphs">M</text>
<text x="1568.2" y="699.6" font-size="26.8" text-anchor="middle" textLength="16.8" lengthAdjust="spacingAndGlyphs">A</text>
<text x="1592.3" y="699.6" font-size="26.8" text-anchor="middle" textLength="22" lengthAdjust="spacingAndGlyphs">M</text>
<text x="1615.7" y="699.6" font-size="26.8" text-anchor="middle" textLength="10.1" lengthAdjust="spacingAndGlyphs">J</text>
<text x="1639.8" y="699.6" font-size="26.8" text-anchor="middle" textLength="10.1" lengthAdjust="spacingAndGlyphs">J</text>
<text x="1663.9" y="699.6" font-size="26.8" text-anchor="middle" textLength="16.8" lengthAdjust="spacingAndGlyphs">A</text>
<text x="1687.3" y="699.6" font-size="26.8" text-anchor="middle" textLength="13.5" lengthAdjust="spacingAndGlyphs">S</text>
<text x="1711.4" y="699.6" font-size="26.8" text-anchor="middle" textLength="18.9" lengthAdjust="spacingAndGlyphs">O</text>
<text x="1734.8" y="699.6" font-size="26.8" text-anchor="middle" textLength="18" lengthAdjust="spacingAndGlyphs">N</text>
<text x="1758.9" y="699.6" font-size="26.8" text-anchor="middle" textLength="18.2" lengthAdjust="spacingAndGlyphs">D</text>
<text x="1617.6" y="742" font-size="26.8" text-anchor="middle" textLength="76.6" lengthAdjust="spacingAndGlyphs">Month</text>
<text x="1453.8" y="655.6" font-size="26.8" text-anchor="end" textLength="42.2" lengthAdjust="spacingAndGlyphs">200</text>
<text x="1453.8" y="575.6" font-size="26.8" text-anchor="end" textLength="42.2" lengthAdjust="spacingAndGlyphs">250</text>
<text x="1453.8" y="495.5" font-size="26.8" text-anchor="end" textLength="42.2" lengthAdjust="spacingAndGlyphs">300</text>
</g>
<g>
<path d="M164.3 844.4V1052.5M187.4 844.4V1052.5M213 844.4V1052.5M237.8 844.4V1052.5M263.4 844.4V1052.5M288.2 844.4V1052.5M313.8 844.4V1052.5M339.4 844.4V1052.5M364.1 844.4V1052.5M389.7 844.4V1052.5M414.5 844.4V1052.5M440.1 844.4V1052.5M138.7 1036.5H440.1M138.7 956.3H440.1M138.7 876H440.1" stroke="#9a9a9a" stroke-width="1" stroke-dasharray="0.9 2.7" fill="none"/>
<path d="M164.3 1052.5v-7.5M164.3 844.4v1.6M187.4 1052.5v-7.5M187.4 844.4v1.6M213 1052.5v-7.5M213 844.4v1.6M237.8 1052.5v-7.5M237.8 844.4v1.6M263.4 1052.5v-7.5M263.4 844.4v1.6M288.2 1052.5v-7.5M288.2 844.4v1.6M313.8 1052.5v-7.5M313.8 844.4v1.6M339.4 1052.5v-7.5M339.4 844.4v1.6M364.1 1052.5v-7.5M364.1 844.4v1.6M389.7 1052.5v-7.5M389.7 844.4v1.6M414.5 1052.5v-7.5M414.5 844.4v1.6M440.1 1052.5v-7.5M440.1 844.4v1.6M138.7 1036.5h7.5M440.1 1036.5h-7.5M138.7 1020.5h4M440.1 1020.5h-4M138.7 1004.4h4M440.1 1004.4h-4M138.7 988.4h4M440.1 988.4h-4M138.7 972.3h4M440.1 972.3h-4M138.7 956.3h7.5M440.1 956.3h-7.5M138.7 940.2h4M440.1 940.2h-4M138.7 924.2h4M440.1 924.2h-4M138.7 908.1h4M440.1 908.1h-4M138.7 892.1h4M440.1 892.1h-4M138.7 876h7.5M440.1 876h-7.5M138.7 859.9h4M440.1 859.9h-4M138.7 843.9h4M440.1 843.9h-4M138.7 844.4h2.5" stroke="#2a2a2a" stroke-width="1.2" fill="none"/>
<path d="M138.7 844.4V1052.5H440.1" stroke="#2a2a2a" stroke-width="1.3" fill="none"/>
<polyline points="139.5,916.6 147.8,915.6 156,914.5 164.3,907.1 172.6,903.5 180.8,906 189.1,905 197.3,906 205.6,901.8 213.8,902.9 222.1,903.9 230.4,909.2 238.6,907.1 246.9,910.3 255.1,914.5 263.4,913.4 271.6,910.3 279.9,907.1 288.2,901.8 296.4,902.2 304.7,903.9 312.9,906 321.2,911.3 329.4,919.8 337.7,927.2 346,928.2 354.2,935.6 362.5,938.8 370.7,938.8 379,945.2 387.3,945.2 395.5,937.8 403.8,932.5 412,925.1 420.3,924 428.5,920.8 436.8,915.6" fill="none" stroke="#000000" stroke-width="1.8" stroke-linejoin="round"/>
<path d="M134.3 911.4h10.4v10.4h-10.4zM142.6 910.4h10.4v10.4h-10.4zM150.8 909.3h10.4v10.4h-10.4zM159.1 901.9h10.4v10.4h-10.4zM167.4 898.3h10.4v10.4h-10.4zM175.6 900.8h10.4v10.4h-10.4zM183.9 899.8h10.4v10.4h-10.4zM192.1 900.8h10.4v10.4h-10.4zM200.4 896.6h10.4v10.4h-10.4zM208.6 897.7h10.4v10.4h-10.4zM216.9 898.7h10.4v10.4h-10.4zM225.2 904h10.4v10.4h-10.4zM233.4 901.9h10.4v10.4h-10.4zM241.7 905.1h10.4v10.4h-10.4zM249.9 909.3h10.4v10.4h-10.4zM258.2 908.2h10.4v10.4h-10.4zM266.4 905.1h10.4v10.4h-10.4zM274.7 901.9h10.4v10.4h-10.4zM283 896.6h10.4v10.4h-10.4zM291.2 897h10.4v10.4h-10.4zM299.5 898.7h10.4v10.4h-10.4zM307.7 900.8h10.4v10.4h-10.4zM316 906.1h10.4v10.4h-10.4zM324.2 914.6h10.4v10.4h-10.4zM332.5 922h10.4v10.4h-10.4zM340.8 923h10.4v10.4h-10.4zM349 930.4h10.4v10.4h-10.4zM357.3 933.6h10.4v10.4h-10.4zM365.5 933.6h10.4v10.4h-10.4zM373.8 940h10.4v10.4h-10.4zM382.1 940h10.4v10.4h-10.4zM390.3 932.6h10.4v10.4h-10.4zM398.6 927.3h10.4v10.4h-10.4zM406.8 919.9h10.4v10.4h-10.4zM415.1 918.8h10.4v10.4h-10.4zM423.3 915.6h10.4v10.4h-10.4zM431.6 910.4h10.4v10.4h-10.4z" fill="none" stroke="#000000" stroke-width="1.5"/>
<path d="M627.6 865.6h37.3" stroke="#000000" stroke-width="1.8" fill="none"/>
<path d="M641 860.4h10.4v10.4h-10.4z" fill="none" stroke="#000000" stroke-width="1.5"/>
<text x="606.4" y="875.3" font-size="26.8" text-anchor="end" textLength="120.7" lengthAdjust="spacingAndGlyphs">15°N 40°W</text>
<polyline points="139.5,932.5 147.8,927.2 156,920.8 164.3,913.4 172.6,911.3 180.8,916.6 189.1,915.6 197.3,911.3 205.6,906 213.8,905 222.1,908.1 230.4,909.2 238.6,905 246.9,907.1 255.1,911.3 263.4,916.6 271.6,920.8 279.9,926.1 288.2,929.3 296.4,936.7 304.7,940.9 312.9,945.2 321.2,951.5 329.4,955.7 337.7,958.9 346,951.5 354.2,953.6 362.5,953.6 370.7,955.7 379,969.5 387.3,974.8 395.5,969.5 403.8,965.3 412,955.7 420.3,944.1 428.5,938.8 436.8,930.4" fill="none" stroke="#0b62cf" stroke-width="1.8" stroke-linejoin="round"/>
<path d="M134.3 932.5a5.2 5.2 0 1 0 10.4 0a5.2 5.2 0 1 0 -10.4 0zM142.6 927.2a5.2 5.2 0 1 0 10.4 0a5.2 5.2 0 1 0 -10.4 0zM150.8 920.8a5.2 5.2 0 1 0 10.4 0a5.2 5.2 0 1 0 -10.4 0zM159.1 913.4a5.2 5.2 0 1 0 10.4 0a5.2 5.2 0 1 0 -10.4 0zM167.4 911.3a5.2 5.2 0 1 0 10.4 0a5.2 5.2 0 1 0 -10.4 0zM175.6 916.6a5.2 5.2 0 1 0 10.4 0a5.2 5.2 0 1 0 -10.4 0zM183.9 915.6a5.2 5.2 0 1 0 10.4 0a5.2 5.2 0 1 0 -10.4 0zM192.1 911.3a5.2 5.2 0 1 0 10.4 0a5.2 5.2 0 1 0 -10.4 0zM200.4 906a5.2 5.2 0 1 0 10.4 0a5.2 5.2 0 1 0 -10.4 0zM208.6 905a5.2 5.2 0 1 0 10.4 0a5.2 5.2 0 1 0 -10.4 0zM216.9 908.1a5.2 5.2 0 1 0 10.4 0a5.2 5.2 0 1 0 -10.4 0zM225.2 909.2a5.2 5.2 0 1 0 10.4 0a5.2 5.2 0 1 0 -10.4 0zM233.4 905a5.2 5.2 0 1 0 10.4 0a5.2 5.2 0 1 0 -10.4 0zM241.7 907.1a5.2 5.2 0 1 0 10.4 0a5.2 5.2 0 1 0 -10.4 0zM249.9 911.3a5.2 5.2 0 1 0 10.4 0a5.2 5.2 0 1 0 -10.4 0zM258.2 916.6a5.2 5.2 0 1 0 10.4 0a5.2 5.2 0 1 0 -10.4 0zM266.4 920.8a5.2 5.2 0 1 0 10.4 0a5.2 5.2 0 1 0 -10.4 0zM274.7 926.1a5.2 5.2 0 1 0 10.4 0a5.2 5.2 0 1 0 -10.4 0zM283 929.3a5.2 5.2 0 1 0 10.4 0a5.2 5.2 0 1 0 -10.4 0zM291.2 936.7a5.2 5.2 0 1 0 10.4 0a5.2 5.2 0 1 0 -10.4 0zM299.5 940.9a5.2 5.2 0 1 0 10.4 0a5.2 5.2 0 1 0 -10.4 0zM307.7 945.2a5.2 5.2 0 1 0 10.4 0a5.2 5.2 0 1 0 -10.4 0zM316 951.5a5.2 5.2 0 1 0 10.4 0a5.2 5.2 0 1 0 -10.4 0zM324.2 955.7a5.2 5.2 0 1 0 10.4 0a5.2 5.2 0 1 0 -10.4 0zM332.5 958.9a5.2 5.2 0 1 0 10.4 0a5.2 5.2 0 1 0 -10.4 0zM340.8 951.5a5.2 5.2 0 1 0 10.4 0a5.2 5.2 0 1 0 -10.4 0zM349 953.6a5.2 5.2 0 1 0 10.4 0a5.2 5.2 0 1 0 -10.4 0zM357.3 953.6a5.2 5.2 0 1 0 10.4 0a5.2 5.2 0 1 0 -10.4 0zM365.5 955.7a5.2 5.2 0 1 0 10.4 0a5.2 5.2 0 1 0 -10.4 0zM373.8 969.5a5.2 5.2 0 1 0 10.4 0a5.2 5.2 0 1 0 -10.4 0zM382.1 974.8a5.2 5.2 0 1 0 10.4 0a5.2 5.2 0 1 0 -10.4 0zM390.3 969.5a5.2 5.2 0 1 0 10.4 0a5.2 5.2 0 1 0 -10.4 0zM398.6 965.3a5.2 5.2 0 1 0 10.4 0a5.2 5.2 0 1 0 -10.4 0zM406.8 955.7a5.2 5.2 0 1 0 10.4 0a5.2 5.2 0 1 0 -10.4 0zM415.1 944.1a5.2 5.2 0 1 0 10.4 0a5.2 5.2 0 1 0 -10.4 0zM423.3 938.8a5.2 5.2 0 1 0 10.4 0a5.2 5.2 0 1 0 -10.4 0zM431.6 930.4a5.2 5.2 0 1 0 10.4 0a5.2 5.2 0 1 0 -10.4 0z" fill="none" stroke="#0b62cf" stroke-width="1.5"/>
<path d="M627.6 908.3h37.3" stroke="#0b62cf" stroke-width="1.8" fill="none"/>
<path d="M641 908.3a5.2 5.2 0 1 0 10.4 0a5.2 5.2 0 1 0 -10.4 0z" fill="none" stroke="#0b62cf" stroke-width="1.5"/>
<text x="606.4" y="918" font-size="26.8" text-anchor="end" textLength="120.7" lengthAdjust="spacingAndGlyphs">10°N 40°W</text>
<polyline points="139.5,935.6 147.8,929.3 156,928.2 164.3,924 172.6,920.8 180.8,918.7 189.1,914.5 197.3,911.3 205.6,907.1 213.8,906 222.1,909.2 230.4,912.4 238.6,911.3 246.9,909.2 255.1,908.1 263.4,910.3 271.6,908.1 279.9,905 288.2,902.9 296.4,906 304.7,910.3 312.9,915.6 321.2,919.8 329.4,926.1 337.7,932.5 346,932.5 354.2,937.8 362.5,937.8 370.7,930.4 379,934.6 387.3,930.4 395.5,934.6 403.8,943 412,938.8 420.3,935.6 428.5,933.5 436.8,935.6" fill="none" stroke="#c9302f" stroke-width="1.8" stroke-linejoin="round"/>
<path d="M139.5 929.4l5.5 9.6h-11zM147.8 923.1l5.5 9.6h-11zM156 922l5.5 9.6h-11zM164.3 917.8l5.5 9.6h-11zM172.6 914.6l5.5 9.6h-11zM180.8 912.5l5.5 9.6h-11zM189.1 908.3l5.5 9.6h-11zM197.3 905.1l5.5 9.6h-11zM205.6 900.9l5.5 9.6h-11zM213.8 899.8l5.5 9.6h-11zM222.1 903l5.5 9.6h-11zM230.4 906.2l5.5 9.6h-11zM238.6 905.1l5.5 9.6h-11zM246.9 903l5.5 9.6h-11zM255.1 901.9l5.5 9.6h-11zM263.4 904.1l5.5 9.6h-11zM271.6 901.9l5.5 9.6h-11zM279.9 898.8l5.5 9.6h-11zM288.2 896.7l5.5 9.6h-11zM296.4 899.8l5.5 9.6h-11zM304.7 904.1l5.5 9.6h-11zM312.9 909.4l5.5 9.6h-11zM321.2 913.6l5.5 9.6h-11zM329.4 919.9l5.5 9.6h-11zM337.7 926.3l5.5 9.6h-11zM346 926.3l5.5 9.6h-11zM354.2 931.6l5.5 9.6h-11zM362.5 931.6l5.5 9.6h-11zM370.7 924.2l5.5 9.6h-11zM379 928.4l5.5 9.6h-11zM387.3 924.2l5.5 9.6h-11zM395.5 928.4l5.5 9.6h-11zM403.8 936.8l5.5 9.6h-11zM412 932.6l5.5 9.6h-11zM420.3 929.4l5.5 9.6h-11zM428.5 927.3l5.5 9.6h-11zM436.8 929.4l5.5 9.6h-11z" fill="none" stroke="#c9302f" stroke-width="1.5"/>
<path d="M627.6 951h37.3" stroke="#c9302f" stroke-width="1.8" fill="none"/>
<path d="M646.2 944.8l5.5 9.6h-11z" fill="none" stroke="#c9302f" stroke-width="1.5"/>
<text x="606.4" y="960.7" font-size="26.8" text-anchor="end" textLength="120.7" lengthAdjust="spacingAndGlyphs">15°N 30°W</text>
<text x="289.4" y="814.2" font-size="29.5" text-anchor="middle" font-weight="bold" textLength="167.7" lengthAdjust="spacingAndGlyphs">(e) NAO (#4)</text>
<text x="163" y="1090.1" font-size="26.8" text-anchor="middle" textLength="10.1" lengthAdjust="spacingAndGlyphs">J</text>
<text x="186.1" y="1090.1" font-size="26.8" text-anchor="middle" textLength="13.3" lengthAdjust="spacingAndGlyphs">F</text>
<text x="211.7" y="1090.1" font-size="26.8" text-anchor="middle" textLength="22" lengthAdjust="spacingAndGlyphs">M</text>
<text x="236.5" y="1090.1" font-size="26.8" text-anchor="middle" textLength="16.8" lengthAdjust="spacingAndGlyphs">A</text>
<text x="262.1" y="1090.1" font-size="26.8" text-anchor="middle" textLength="22" lengthAdjust="spacingAndGlyphs">M</text>
<text x="286.9" y="1090.1" font-size="26.8" text-anchor="middle" textLength="10.1" lengthAdjust="spacingAndGlyphs">J</text>
<text x="312.5" y="1090.1" font-size="26.8" text-anchor="middle" textLength="10.1" lengthAdjust="spacingAndGlyphs">J</text>
<text x="338.1" y="1090.1" font-size="26.8" text-anchor="middle" textLength="16.8" lengthAdjust="spacingAndGlyphs">A</text>
<text x="362.8" y="1090.1" font-size="26.8" text-anchor="middle" textLength="13.5" lengthAdjust="spacingAndGlyphs">S</text>
<text x="388.4" y="1090.1" font-size="26.8" text-anchor="middle" textLength="18.9" lengthAdjust="spacingAndGlyphs">O</text>
<text x="413.2" y="1090.1" font-size="26.8" text-anchor="middle" textLength="18" lengthAdjust="spacingAndGlyphs">N</text>
<text x="438.8" y="1090.1" font-size="26.8" text-anchor="middle" textLength="18.2" lengthAdjust="spacingAndGlyphs">D</text>
<text x="288.8" y="1132.2" font-size="26.8" text-anchor="middle" textLength="76.6" lengthAdjust="spacingAndGlyphs">Month</text>
<text x="116.4" y="1046.1" font-size="26.8" text-anchor="end" textLength="42.2" lengthAdjust="spacingAndGlyphs">200</text>
<text x="116.4" y="965.9" font-size="26.8" text-anchor="end" textLength="42.2" lengthAdjust="spacingAndGlyphs">250</text>
<text x="116.4" y="885.6" font-size="26.8" text-anchor="end" textLength="42.2" lengthAdjust="spacingAndGlyphs">300</text>
<g transform="translate(35.2 1026.6) rotate(-90)">
<text x="-0.8" y="0" font-size="26.8" font-style="italic" textLength="45.5" lengthAdjust="spacingAndGlyphs">OLR</text>
<text x="44.6" y="12" font-size="19.5" font-style="italic" textLength="33.2" lengthAdjust="spacingAndGlyphs">clim</text>
<text x="79.3" y="0" font-size="26.8" textLength="57" lengthAdjust="spacingAndGlyphs">(W m</text>
<text x="137.6" y="-9.5" font-size="19" textLength="14.3" lengthAdjust="spacingAndGlyphs">-2</text>
<text x="151" y="0" font-size="26.8" textLength="7" lengthAdjust="spacingAndGlyphs">)</text>
<text x="0" y="0" font-size="43" font-family="&quot;Liberation Sans&quot;, &quot;Noto Serif CJK SC&quot;, serif" transform="translate(-1.5 -22.4) scale(1 0.5)">〜</text>
</g>
</g>
<g>
<path d="M830 844.4V1052.5M850.5 844.4V1052.5M873.2 844.4V1052.5M895.1 844.4V1052.5M917.8 844.4V1052.5M939.8 844.4V1052.5M962.5 844.4V1052.5M985.2 844.4V1052.5M1007.2 844.4V1052.5M1029.8 844.4V1052.5M1051.8 844.4V1052.5M1074.5 844.4V1052.5M807.3 1036.5H1074.5M807.3 956.3H1074.5M807.3 876H1074.5" stroke="#9a9a9a" stroke-width="1" stroke-dasharray="0.9 2.7" fill="none"/>
<path d="M830 1052.5v-7.5M830 844.4v1.6M850.5 1052.5v-7.5M850.5 844.4v1.6M873.2 1052.5v-7.5M873.2 844.4v1.6M895.1 1052.5v-7.5M895.1 844.4v1.6M917.8 1052.5v-7.5M917.8 844.4v1.6M939.8 1052.5v-7.5M939.8 844.4v1.6M962.5 1052.5v-7.5M962.5 844.4v1.6M985.2 1052.5v-7.5M985.2 844.4v1.6M1007.2 1052.5v-7.5M1007.2 844.4v1.6M1029.8 1052.5v-7.5M1029.8 844.4v1.6M1051.8 1052.5v-7.5M1051.8 844.4v1.6M1074.5 1052.5v-7.5M1074.5 844.4v1.6M807.3 1036.5h7.5M1074.5 1036.5h-7.5M807.3 1020.5h4M1074.5 1020.5h-4M807.3 1004.4h4M1074.5 1004.4h-4M807.3 988.4h4M1074.5 988.4h-4M807.3 972.3h4M1074.5 972.3h-4M807.3 956.3h7.5M1074.5 956.3h-7.5M807.3 940.2h4M1074.5 940.2h-4M807.3 924.2h4M1074.5 924.2h-4M807.3 908.1h4M1074.5 908.1h-4M807.3 892.1h4M1074.5 892.1h-4M807.3 876h7.5M1074.5 876h-7.5M807.3 859.9h4M1074.5 859.9h-4M807.3 843.9h4M1074.5 843.9h-4M807.3 844.4h2.5" stroke="#2a2a2a" stroke-width="1.2" fill="none"/>
<path d="M807.3 844.4V1052.5H1074.5" stroke="#2a2a2a" stroke-width="1.3" fill="none"/>
<polyline points="808,959.3 815.4,954.7 822.7,945.2 830,952.6 837.3,963.1 844.6,958.9 852,951.5 859.3,953.6 866.6,950.4 873.9,952.6 881.2,951.5 888.6,954.7 895.9,939.9 903.2,938.8 910.5,939.9 917.8,929.3 925.2,928.2 932.5,928.2 939.8,921.9 947.1,920.8 954.4,920.8 961.8,924 969.1,920.8 976.4,910.3 983.7,909.8 991,915.6 998.4,909.2 1005.7,909.2 1013,914.5 1020.3,913.4 1027.6,913.4 1035,914.5 1042.3,915.6 1049.6,927.2 1056.9,938.8 1064.3,946.2 1071.6,950" fill="none" stroke="#000000" stroke-width="1.8" stroke-linejoin="round"/>
<path d="M802.8 954.1h10.4v10.4h-10.4zM810.2 949.5h10.4v10.4h-10.4zM817.5 940h10.4v10.4h-10.4zM824.8 947.4h10.4v10.4h-10.4zM832.1 957.9h10.4v10.4h-10.4zM839.4 953.7h10.4v10.4h-10.4zM846.8 946.3h10.4v10.4h-10.4zM854.1 948.4h10.4v10.4h-10.4zM861.4 945.2h10.4v10.4h-10.4zM868.7 947.4h10.4v10.4h-10.4zM876 946.3h10.4v10.4h-10.4zM883.4 949.5h10.4v10.4h-10.4zM890.7 934.7h10.4v10.4h-10.4zM898 933.6h10.4v10.4h-10.4zM905.3 934.7h10.4v10.4h-10.4zM912.6 924.1h10.4v10.4h-10.4zM920 923h10.4v10.4h-10.4zM927.3 923h10.4v10.4h-10.4zM934.6 916.7h10.4v10.4h-10.4zM941.9 915.6h10.4v10.4h-10.4zM949.2 915.6h10.4v10.4h-10.4zM956.6 918.8h10.4v10.4h-10.4zM963.9 915.6h10.4v10.4h-10.4zM971.2 905.1h10.4v10.4h-10.4zM978.5 904.6h10.4v10.4h-10.4zM985.8 910.4h10.4v10.4h-10.4zM993.2 904h10.4v10.4h-10.4zM1000.5 904h10.4v10.4h-10.4zM1007.8 909.3h10.4v10.4h-10.4zM1015.1 908.2h10.4v10.4h-10.4zM1022.4 908.2h10.4v10.4h-10.4zM1029.8 909.3h10.4v10.4h-10.4zM1037.1 910.4h10.4v10.4h-10.4zM1044.4 922h10.4v10.4h-10.4zM1051.7 933.6h10.4v10.4h-10.4zM1059.1 941h10.4v10.4h-10.4zM1066.4 944.8h10.4v10.4h-10.4z" fill="none" stroke="#000000" stroke-width="1.5"/>
<path d="M1297.4 865.6h37.3" stroke="#000000" stroke-width="1.8" fill="none"/>
<path d="M1310.8 860.4h10.4v10.4h-10.4z" fill="none" stroke="#000000" stroke-width="1.5"/>
<text x="1276.2" y="875.3" font-size="26.8" text-anchor="end" textLength="93" lengthAdjust="spacingAndGlyphs">4°S 180°</text>
<polyline points="808,918.7 815.4,919.8 822.7,920.8 830,921.9 837.3,917.7 844.6,919.8 852,924 859.3,933.5 866.6,937.8 873.9,946.2 881.2,952.6 888.6,960 895.9,952.6 903.2,950.4 910.5,948.3 917.8,944.1 925.2,939.9 932.5,937.8 939.8,934.6 947.1,924 954.4,919.8 961.8,918.7 969.1,913.4 976.4,911.3 983.7,909.2 991,911.3 998.4,911.3 1005.7,911.3 1013,914.5 1020.3,909.2 1027.6,913.4 1035,914.5 1042.3,916.6 1049.6,918.7 1056.9,920.8 1064.3,926.1 1071.6,922.5" fill="none" stroke="#0b62cf" stroke-width="1.8" stroke-linejoin="round"/>
<path d="M802.8 918.7a5.2 5.2 0 1 0 10.4 0a5.2 5.2 0 1 0 -10.4 0zM810.2 919.8a5.2 5.2 0 1 0 10.4 0a5.2 5.2 0 1 0 -10.4 0zM817.5 920.8a5.2 5.2 0 1 0 10.4 0a5.2 5.2 0 1 0 -10.4 0zM824.8 921.9a5.2 5.2 0 1 0 10.4 0a5.2 5.2 0 1 0 -10.4 0zM832.1 917.7a5.2 5.2 0 1 0 10.4 0a5.2 5.2 0 1 0 -10.4 0zM839.4 919.8a5.2 5.2 0 1 0 10.4 0a5.2 5.2 0 1 0 -10.4 0zM846.8 924a5.2 5.2 0 1 0 10.4 0a5.2 5.2 0 1 0 -10.4 0zM854.1 933.5a5.2 5.2 0 1 0 10.4 0a5.2 5.2 0 1 0 -10.4 0zM861.4 937.8a5.2 5.2 0 1 0 10.4 0a5.2 5.2 0 1 0 -10.4 0zM868.7 946.2a5.2 5.2 0 1 0 10.4 0a5.2 5.2 0 1 0 -10.4 0zM876 952.6a5.2 5.2 0 1 0 10.4 0a5.2 5.2 0 1 0 -10.4 0zM883.4 960a5.2 5.2 0 1 0 10.4 0a5.2 5.2 0 1 0 -10.4 0zM890.7 952.6a5.2 5.2 0 1 0 10.4 0a5.2 5.2 0 1 0 -10.4 0zM898 950.4a5.2 5.2 0 1 0 10.4 0a5.2 5.2 0 1 0 -10.4 0zM905.3 948.3a5.2 5.2 0 1 0 10.4 0a5.2 5.2 0 1 0 -10.4 0zM912.6 944.1a5.2 5.2 0 1 0 10.4 0a5.2 5.2 0 1 0 -10.4 0zM920 939.9a5.2 5.2 0 1 0 10.4 0a5.2 5.2 0 1 0 -10.4 0zM927.3 937.8a5.2 5.2 0 1 0 10.4 0a5.2 5.2 0 1 0 -10.4 0zM934.6 934.6a5.2 5.2 0 1 0 10.4 0a5.2 5.2 0 1 0 -10.4 0zM941.9 924a5.2 5.2 0 1 0 10.4 0a5.2 5.2 0 1 0 -10.4 0zM949.2 919.8a5.2 5.2 0 1 0 10.4 0a5.2 5.2 0 1 0 -10.4 0zM956.6 918.7a5.2 5.2 0 1 0 10.4 0a5.2 5.2 0 1 0 -10.4 0zM963.9 913.4a5.2 5.2 0 1 0 10.4 0a5.2 5.2 0 1 0 -10.4 0zM971.2 911.3a5.2 5.2 0 1 0 10.4 0a5.2 5.2 0 1 0 -10.4 0zM978.5 909.2a5.2 5.2 0 1 0 10.4 0a5.2 5.2 0 1 0 -10.4 0zM985.8 911.3a5.2 5.2 0 1 0 10.4 0a5.2 5.2 0 1 0 -10.4 0zM993.2 911.3a5.2 5.2 0 1 0 10.4 0a5.2 5.2 0 1 0 -10.4 0zM1000.5 911.3a5.2 5.2 0 1 0 10.4 0a5.2 5.2 0 1 0 -10.4 0zM1007.8 914.5a5.2 5.2 0 1 0 10.4 0a5.2 5.2 0 1 0 -10.4 0zM1015.1 909.2a5.2 5.2 0 1 0 10.4 0a5.2 5.2 0 1 0 -10.4 0zM1022.4 913.4a5.2 5.2 0 1 0 10.4 0a5.2 5.2 0 1 0 -10.4 0zM1029.8 914.5a5.2 5.2 0 1 0 10.4 0a5.2 5.2 0 1 0 -10.4 0zM1037.1 916.6a5.2 5.2 0 1 0 10.4 0a5.2 5.2 0 1 0 -10.4 0zM1044.4 918.7a5.2 5.2 0 1 0 10.4 0a5.2 5.2 0 1 0 -10.4 0zM1051.7 920.8a5.2 5.2 0 1 0 10.4 0a5.2 5.2 0 1 0 -10.4 0zM1059.1 926.1a5.2 5.2 0 1 0 10.4 0a5.2 5.2 0 1 0 -10.4 0zM1066.4 922.5a5.2 5.2 0 1 0 10.4 0a5.2 5.2 0 1 0 -10.4 0z" fill="none" stroke="#0b62cf" stroke-width="1.5"/>
<path d="M1297.4 908.3h37.3" stroke="#0b62cf" stroke-width="1.8" fill="none"/>
<path d="M1310.8 908.3a5.2 5.2 0 1 0 10.4 0a5.2 5.2 0 1 0 -10.4 0z" fill="none" stroke="#0b62cf" stroke-width="1.5"/>
<text x="1276.2" y="918" font-size="26.8" text-anchor="end" textLength="140.4" lengthAdjust="spacingAndGlyphs">3.5°N 150°W</text>
<polyline points="808,890.2 815.4,893.3 822.7,893.3 830,896.5 837.3,899.7 844.6,903.9 852,906 859.3,916.6 866.6,925.1 873.9,931.4 881.2,933.5 888.6,928.2 895.9,916.6 903.2,898.6 910.5,889.1 917.8,882.8 925.2,880.7 932.5,879.6 939.8,879 947.1,879.6 954.4,877.5 961.8,876.4 969.1,874.7 976.4,877.5 983.7,878.1 991,879.6 998.4,877.5 1005.7,876.4 1013,876 1020.3,874.7 1027.6,874.7 1035,875.4 1042.3,880.7 1049.6,884.9 1056.9,885.9 1064.3,887 1071.6,888.1" fill="none" stroke="#c9302f" stroke-width="1.8" stroke-linejoin="round"/>
<path d="M808 884l5.5 9.6h-11zM815.4 887.1l5.5 9.6h-11zM822.7 887.1l5.5 9.6h-11zM830 890.3l5.5 9.6h-11zM837.3 893.5l5.5 9.6h-11zM844.6 897.7l5.5 9.6h-11zM852 899.8l5.5 9.6h-11zM859.3 910.4l5.5 9.6h-11zM866.6 918.9l5.5 9.6h-11zM873.9 925.2l5.5 9.6h-11zM881.2 927.3l5.5 9.6h-11zM888.6 922l5.5 9.6h-11zM895.9 910.4l5.5 9.6h-11zM903.2 892.4l5.5 9.6h-11zM910.5 882.9l5.5 9.6h-11zM917.8 876.6l5.5 9.6h-11zM925.2 874.5l5.5 9.6h-11zM932.5 873.4l5.5 9.6h-11zM939.8 872.8l5.5 9.6h-11zM947.1 873.4l5.5 9.6h-11zM954.4 871.3l5.5 9.6h-11zM961.8 870.2l5.5 9.6h-11zM969.1 868.5l5.5 9.6h-11zM976.4 871.3l5.5 9.6h-11zM983.7 871.9l5.5 9.6h-11zM991 873.4l5.5 9.6h-11zM998.4 871.3l5.5 9.6h-11zM1005.7 870.2l5.5 9.6h-11zM1013 869.8l5.5 9.6h-11zM1020.3 868.5l5.5 9.6h-11zM1027.6 868.5l5.5 9.6h-11zM1035 869.2l5.5 9.6h-11zM1042.3 874.5l5.5 9.6h-11zM1049.6 878.7l5.5 9.6h-11zM1056.9 879.7l5.5 9.6h-11zM1064.3 880.8l5.5 9.6h-11zM1071.6 881.9l5.5 9.6h-11z" fill="none" stroke="#c9302f" stroke-width="1.5"/>
<path d="M1297.4 951h37.3" stroke="#c9302f" stroke-width="1.8" fill="none"/>
<path d="M1316 944.8l5.5 9.6h-11z" fill="none" stroke="#c9302f" stroke-width="1.5"/>
<text x="1276.2" y="960.7" font-size="26.8" text-anchor="end" textLength="116.1" lengthAdjust="spacingAndGlyphs">4°S 130°W</text>
<polyline points="808,928.2 815.4,940.9 822.7,947.3 830,952.6 837.3,956.8 844.6,963.1 852,962.1 859.3,961 866.6,961 873.9,964.2 881.2,966.3 888.6,970.5 895.9,968.4 903.2,952.6 910.5,933.5 917.8,921.9 925.2,914.5 932.5,903.9 939.8,897.6 947.1,899.7 954.4,898.6 961.8,897.2 969.1,897.2 976.4,897.6 983.7,898 991,897.6 998.4,898 1005.7,897.2 1013,897.2 1020.3,898 1027.6,899.7 1035,903.9 1042.3,906 1049.6,909.2 1056.9,911.3 1064.3,916.6 1071.6,927.2" fill="none" stroke="#2e9b2e" stroke-width="1.8" stroke-linejoin="round"/>
<path d="M808 922l5.5 9.6h-11zM815.4 934.7l5.5 9.6h-11zM822.7 941.1l5.5 9.6h-11zM830 946.4l5.5 9.6h-11zM837.3 950.6l5.5 9.6h-11zM844.6 956.9l5.5 9.6h-11zM852 955.9l5.5 9.6h-11zM859.3 954.8l5.5 9.6h-11zM866.6 954.8l5.5 9.6h-11zM873.9 958l5.5 9.6h-11zM881.2 960.1l5.5 9.6h-11zM888.6 964.3l5.5 9.6h-11zM895.9 962.2l5.5 9.6h-11zM903.2 946.4l5.5 9.6h-11zM910.5 927.3l5.5 9.6h-11zM917.8 915.7l5.5 9.6h-11zM925.2 908.3l5.5 9.6h-11zM932.5 897.7l5.5 9.6h-11zM939.8 891.4l5.5 9.6h-11zM947.1 893.5l5.5 9.6h-11zM954.4 892.4l5.5 9.6h-11zM961.8 891l5.5 9.6h-11zM969.1 891l5.5 9.6h-11zM976.4 891.4l5.5 9.6h-11zM983.7 891.8l5.5 9.6h-11zM991 891.4l5.5 9.6h-11zM998.4 891.8l5.5 9.6h-11zM1005.7 891l5.5 9.6h-11zM1013 891l5.5 9.6h-11zM1020.3 891.8l5.5 9.6h-11zM1027.6 893.5l5.5 9.6h-11zM1035 897.7l5.5 9.6h-11zM1042.3 899.8l5.5 9.6h-11zM1049.6 903l5.5 9.6h-11zM1056.9 905.1l5.5 9.6h-11zM1064.3 910.4l5.5 9.6h-11zM1071.6 921l5.5 9.6h-11z" fill="none" stroke="#2e9b2e" stroke-width="1.5"/>
<path d="M1297.4 993.7h37.3" stroke="#2e9b2e" stroke-width="1.8" fill="none"/>
<path d="M1316 987.5l5.5 9.6h-11z" fill="none" stroke="#2e9b2e" stroke-width="1.5"/>
<text x="1276.2" y="1003.4" font-size="26.8" text-anchor="end" textLength="88.6" lengthAdjust="spacingAndGlyphs">0° 30°W</text>
<text x="940.9" y="814.2" font-size="29.5" text-anchor="middle" font-weight="bold" textLength="174.5" lengthAdjust="spacingAndGlyphs">(f) EPAO (#5)</text>
<text x="828.7" y="1090.1" font-size="26.8" text-anchor="middle" textLength="10.1" lengthAdjust="spacingAndGlyphs">J</text>
<text x="849.2" y="1090.1" font-size="26.8" text-anchor="middle" textLength="13.3" lengthAdjust="spacingAndGlyphs">F</text>
<text x="871.9" y="1090.1" font-size="26.8" text-anchor="middle" textLength="22" lengthAdjust="spacingAndGlyphs">M</text>
<text x="893.8" y="1090.1" font-size="26.8" text-anchor="middle" textLength="16.8" lengthAdjust="spacingAndGlyphs">A</text>
<text x="916.5" y="1090.1" font-size="26.8" text-anchor="middle" textLength="22" lengthAdjust="spacingAndGlyphs">M</text>
<text x="938.5" y="1090.1" font-size="26.8" text-anchor="middle" textLength="10.1" lengthAdjust="spacingAndGlyphs">J</text>
<text x="961.2" y="1090.1" font-size="26.8" text-anchor="middle" textLength="10.1" lengthAdjust="spacingAndGlyphs">J</text>
<text x="983.9" y="1090.1" font-size="26.8" text-anchor="middle" textLength="16.8" lengthAdjust="spacingAndGlyphs">A</text>
<text x="1005.9" y="1090.1" font-size="26.8" text-anchor="middle" textLength="13.5" lengthAdjust="spacingAndGlyphs">S</text>
<text x="1028.5" y="1090.1" font-size="26.8" text-anchor="middle" textLength="18.9" lengthAdjust="spacingAndGlyphs">O</text>
<text x="1050.5" y="1090.1" font-size="26.8" text-anchor="middle" textLength="18" lengthAdjust="spacingAndGlyphs">N</text>
<text x="1073.2" y="1090.1" font-size="26.8" text-anchor="middle" textLength="18.2" lengthAdjust="spacingAndGlyphs">D</text>
<text x="940.3" y="1132.2" font-size="26.8" text-anchor="middle" textLength="76.6" lengthAdjust="spacingAndGlyphs">Month</text>
<text x="785" y="1046.1" font-size="26.8" text-anchor="end" textLength="42.2" lengthAdjust="spacingAndGlyphs">200</text>
<text x="785" y="965.9" font-size="26.8" text-anchor="end" textLength="42.2" lengthAdjust="spacingAndGlyphs">250</text>
<text x="785" y="885.6" font-size="26.8" text-anchor="end" textLength="42.2" lengthAdjust="spacingAndGlyphs">300</text>
</g>
<g>
<path d="M1498.8 844.4V1052.5M1519.3 844.4V1052.5M1542 844.4V1052.5M1564 844.4V1052.5M1586.7 844.4V1052.5M1608.7 844.4V1052.5M1631.4 844.4V1052.5M1654.1 844.4V1052.5M1676 844.4V1052.5M1698.7 844.4V1052.5M1720.7 844.4V1052.5M1743.4 844.4V1052.5M1476.1 1036.5H1743.4M1476.1 956.3H1743.4M1476.1 876H1743.4" stroke="#9a9a9a" stroke-width="1" stroke-dasharray="0.9 2.7" fill="none"/>
<path d="M1498.8 1052.5v-7.5M1498.8 844.4v1.6M1519.3 1052.5v-7.5M1519.3 844.4v1.6M1542 1052.5v-7.5M1542 844.4v1.6M1564 1052.5v-7.5M1564 844.4v1.6M1586.7 1052.5v-7.5M1586.7 844.4v1.6M1608.7 1052.5v-7.5M1608.7 844.4v1.6M1631.4 1052.5v-7.5M1631.4 844.4v1.6M1654.1 1052.5v-7.5M1654.1 844.4v1.6M1676 1052.5v-7.5M1676 844.4v1.6M1698.7 1052.5v-7.5M1698.7 844.4v1.6M1720.7 1052.5v-7.5M1720.7 844.4v1.6M1743.4 1052.5v-7.5M1743.4 844.4v1.6M1476.1 1036.5h7.5M1743.4 1036.5h-7.5M1476.1 1020.5h4M1743.4 1020.5h-4M1476.1 1004.4h4M1743.4 1004.4h-4M1476.1 988.4h4M1743.4 988.4h-4M1476.1 972.3h4M1743.4 972.3h-4M1476.1 956.3h7.5M1743.4 956.3h-7.5M1476.1 940.2h4M1743.4 940.2h-4M1476.1 924.2h4M1743.4 924.2h-4M1476.1 908.1h4M1743.4 908.1h-4M1476.1 892.1h4M1743.4 892.1h-4M1476.1 876h7.5M1743.4 876h-7.5M1476.1 859.9h4M1743.4 859.9h-4M1476.1 843.9h4M1743.4 843.9h-4M1476.1 844.4h2.5" stroke="#2a2a2a" stroke-width="1.2" fill="none"/>
<path d="M1476.1 844.4V1052.5H1743.4" stroke="#2a2a2a" stroke-width="1.3" fill="none"/>
<polyline points="1476.8,975.8 1484.2,974.8 1491.5,976.9 1498.8,973.7 1506.1,970.5 1513.4,977.9 1520.8,991.7 1528.1,995.9 1535.4,1003.3 1542.7,1017.1 1550.1,1019.2 1557.4,1023.4 1564.7,1026.6 1572,1021.3 1579.4,1004.4 1586.7,984.3 1594,980.1 1601.3,981.1 1608.7,976.9 1616,967.4 1623.3,968.4 1630.6,983.2 1637.9,987.5 1645.3,991.7 1652.6,997 1659.9,998 1667.2,998 1674.6,1006.5 1681.9,1018.1 1689.2,1025.5 1696.5,1030.8 1703.9,1032.9 1711.2,1029.8 1718.5,1018.1 1725.8,1006.5 1733.1,991.7 1740.5,976.9" fill="none" stroke="#000000" stroke-width="1.8" stroke-linejoin="round"/>
<path d="M1471.6 970.6h10.4v10.4h-10.4zM1479 969.6h10.4v10.4h-10.4zM1486.3 971.7h10.4v10.4h-10.4zM1493.6 968.5h10.4v10.4h-10.4zM1500.9 965.3h10.4v10.4h-10.4zM1508.2 972.7h10.4v10.4h-10.4zM1515.6 986.5h10.4v10.4h-10.4zM1522.9 990.7h10.4v10.4h-10.4zM1530.2 998.1h10.4v10.4h-10.4zM1537.5 1011.9h10.4v10.4h-10.4zM1544.9 1014h10.4v10.4h-10.4zM1552.2 1018.2h10.4v10.4h-10.4zM1559.5 1021.4h10.4v10.4h-10.4zM1566.8 1016.1h10.4v10.4h-10.4zM1574.2 999.2h10.4v10.4h-10.4zM1581.5 979.1h10.4v10.4h-10.4zM1588.8 974.9h10.4v10.4h-10.4zM1596.1 975.9h10.4v10.4h-10.4zM1603.5 971.7h10.4v10.4h-10.4zM1610.8 962.2h10.4v10.4h-10.4zM1618.1 963.2h10.4v10.4h-10.4zM1625.4 978h10.4v10.4h-10.4zM1632.7 982.3h10.4v10.4h-10.4zM1640.1 986.5h10.4v10.4h-10.4zM1647.4 991.8h10.4v10.4h-10.4zM1654.7 992.8h10.4v10.4h-10.4zM1662 992.8h10.4v10.4h-10.4zM1669.4 1001.3h10.4v10.4h-10.4zM1676.7 1012.9h10.4v10.4h-10.4zM1684 1020.3h10.4v10.4h-10.4zM1691.3 1025.6h10.4v10.4h-10.4zM1698.7 1027.7h10.4v10.4h-10.4zM1706 1024.6h10.4v10.4h-10.4zM1713.3 1012.9h10.4v10.4h-10.4zM1720.6 1001.3h10.4v10.4h-10.4zM1727.9 986.5h10.4v10.4h-10.4zM1735.3 971.7h10.4v10.4h-10.4z" fill="none" stroke="#000000" stroke-width="1.5"/>
<path d="M1966.4 865.6h37.3" stroke="#000000" stroke-width="1.8" fill="none"/>
<path d="M1979.8 860.4h10.4v10.4h-10.4z" fill="none" stroke="#000000" stroke-width="1.5"/>
<text x="1945.2" y="875.3" font-size="26.8" text-anchor="end" textLength="78.9" lengthAdjust="spacingAndGlyphs">0° 30°E</text>
<polyline points="1476.8,937.3 1484.2,943 1491.5,947.3 1498.8,939.9 1506.1,926.1 1513.4,923 1520.8,927.6 1528.1,920.8 1535.4,918.7 1542.7,911.3 1550.1,901.8 1557.4,920.4 1564.7,940.3 1572,947.3 1579.4,947.3 1586.7,951.5 1594,958.9 1601.3,967.4 1608.7,972.7 1616,969.5 1623.3,974.8 1630.6,969.5 1637.9,976.9 1645.3,981.1 1652.6,965.3 1659.9,967.4 1667.2,963.1 1674.6,943 1681.9,933.5 1689.2,935.6 1696.5,936.7 1703.9,933.5 1711.2,944.1 1718.5,937.8 1725.8,933.5 1733.1,938.8 1740.5,939.9" fill="none" stroke="#0b62cf" stroke-width="1.8" stroke-linejoin="round"/>
<path d="M1471.6 937.3a5.2 5.2 0 1 0 10.4 0a5.2 5.2 0 1 0 -10.4 0zM1479 943a5.2 5.2 0 1 0 10.4 0a5.2 5.2 0 1 0 -10.4 0zM1486.3 947.3a5.2 5.2 0 1 0 10.4 0a5.2 5.2 0 1 0 -10.4 0zM1493.6 939.9a5.2 5.2 0 1 0 10.4 0a5.2 5.2 0 1 0 -10.4 0zM1500.9 926.1a5.2 5.2 0 1 0 10.4 0a5.2 5.2 0 1 0 -10.4 0zM1508.2 923a5.2 5.2 0 1 0 10.4 0a5.2 5.2 0 1 0 -10.4 0zM1515.6 927.6a5.2 5.2 0 1 0 10.4 0a5.2 5.2 0 1 0 -10.4 0zM1522.9 920.8a5.2 5.2 0 1 0 10.4 0a5.2 5.2 0 1 0 -10.4 0zM1530.2 918.7a5.2 5.2 0 1 0 10.4 0a5.2 5.2 0 1 0 -10.4 0zM1537.5 911.3a5.2 5.2 0 1 0 10.4 0a5.2 5.2 0 1 0 -10.4 0zM1544.9 901.8a5.2 5.2 0 1 0 10.4 0a5.2 5.2 0 1 0 -10.4 0zM1552.2 920.4a5.2 5.2 0 1 0 10.4 0a5.2 5.2 0 1 0 -10.4 0zM1559.5 940.3a5.2 5.2 0 1 0 10.4 0a5.2 5.2 0 1 0 -10.4 0zM1566.8 947.3a5.2 5.2 0 1 0 10.4 0a5.2 5.2 0 1 0 -10.4 0zM1574.2 947.3a5.2 5.2 0 1 0 10.4 0a5.2 5.2 0 1 0 -10.4 0zM1581.5 951.5a5.2 5.2 0 1 0 10.4 0a5.2 5.2 0 1 0 -10.4 0zM1588.8 958.9a5.2 5.2 0 1 0 10.4 0a5.2 5.2 0 1 0 -10.4 0zM1596.1 967.4a5.2 5.2 0 1 0 10.4 0a5.2 5.2 0 1 0 -10.4 0zM1603.5 972.7a5.2 5.2 0 1 0 10.4 0a5.2 5.2 0 1 0 -10.4 0zM1610.8 969.5a5.2 5.2 0 1 0 10.4 0a5.2 5.2 0 1 0 -10.4 0zM1618.1 974.8a5.2 5.2 0 1 0 10.4 0a5.2 5.2 0 1 0 -10.4 0zM1625.4 969.5a5.2 5.2 0 1 0 10.4 0a5.2 5.2 0 1 0 -10.4 0zM1632.7 976.9a5.2 5.2 0 1 0 10.4 0a5.2 5.2 0 1 0 -10.4 0zM1640.1 981.1a5.2 5.2 0 1 0 10.4 0a5.2 5.2 0 1 0 -10.4 0zM1647.4 965.3a5.2 5.2 0 1 0 10.4 0a5.2 5.2 0 1 0 -10.4 0zM1654.7 967.4a5.2 5.2 0 1 0 10.4 0a5.2 5.2 0 1 0 -10.4 0zM1662 963.1a5.2 5.2 0 1 0 10.4 0a5.2 5.2 0 1 0 -10.4 0zM1669.4 943a5.2 5.2 0 1 0 10.4 0a5.2 5.2 0 1 0 -10.4 0zM1676.7 933.5a5.2 5.2 0 1 0 10.4 0a5.2 5.2 0 1 0 -10.4 0zM1684 935.6a5.2 5.2 0 1 0 10.4 0a5.2 5.2 0 1 0 -10.4 0zM1691.3 936.7a5.2 5.2 0 1 0 10.4 0a5.2 5.2 0 1 0 -10.4 0zM1698.7 933.5a5.2 5.2 0 1 0 10.4 0a5.2 5.2 0 1 0 -10.4 0zM1706 944.1a5.2 5.2 0 1 0 10.4 0a5.2 5.2 0 1 0 -10.4 0zM1713.3 937.8a5.2 5.2 0 1 0 10.4 0a5.2 5.2 0 1 0 -10.4 0zM1720.6 933.5a5.2 5.2 0 1 0 10.4 0a5.2 5.2 0 1 0 -10.4 0zM1727.9 938.8a5.2 5.2 0 1 0 10.4 0a5.2 5.2 0 1 0 -10.4 0zM1735.3 939.9a5.2 5.2 0 1 0 10.4 0a5.2 5.2 0 1 0 -10.4 0z" fill="none" stroke="#0b62cf" stroke-width="1.5"/>
<path d="M1966.4 908.3h37.3" stroke="#0b62cf" stroke-width="1.8" fill="none"/>
<path d="M1979.8 908.3a5.2 5.2 0 1 0 10.4 0a5.2 5.2 0 1 0 -10.4 0z" fill="none" stroke="#0b62cf" stroke-width="1.5"/>
<text x="1945.2" y="918" font-size="26.8" text-anchor="end" textLength="78.9" lengthAdjust="spacingAndGlyphs">0° 60°E</text>
<polyline points="1476.8,952.6 1484.2,950.4 1491.5,945.2 1498.8,952.6 1506.1,969.5 1513.4,975.8 1520.8,972.7 1528.1,969.5 1535.4,971.6 1542.7,974.8 1550.1,967.4 1557.4,956.8 1564.7,958.9 1572,954.7 1579.4,939.9 1586.7,939.9 1594,950.4 1601.3,942 1608.7,952.6 1616,952.6 1623.3,940.9 1630.6,938.8 1637.9,929.3 1645.3,931.4 1652.6,934.6 1659.9,928.2 1667.2,926.1 1674.6,927.2 1681.9,926.1 1689.2,918.7 1696.5,924 1703.9,929.3 1711.2,935.6 1718.5,942 1725.8,948.3 1733.1,942 1740.5,944.1" fill="none" stroke="#c9302f" stroke-width="1.8" stroke-linejoin="round"/>
<path d="M1476.8 946.4l5.5 9.6h-11zM1484.2 944.2l5.5 9.6h-11zM1491.5 939l5.5 9.6h-11zM1498.8 946.4l5.5 9.6h-11zM1506.1 963.3l5.5 9.6h-11zM1513.4 969.6l5.5 9.6h-11zM1520.8 966.5l5.5 9.6h-11zM1528.1 963.3l5.5 9.6h-11zM1535.4 965.4l5.5 9.6h-11zM1542.7 968.6l5.5 9.6h-11zM1550.1 961.2l5.5 9.6h-11zM1557.4 950.6l5.5 9.6h-11zM1564.7 952.7l5.5 9.6h-11zM1572 948.5l5.5 9.6h-11zM1579.4 933.7l5.5 9.6h-11zM1586.7 933.7l5.5 9.6h-11zM1594 944.2l5.5 9.6h-11zM1601.3 935.8l5.5 9.6h-11zM1608.7 946.4l5.5 9.6h-11zM1616 946.4l5.5 9.6h-11zM1623.3 934.7l5.5 9.6h-11zM1630.6 932.6l5.5 9.6h-11zM1637.9 923.1l5.5 9.6h-11zM1645.3 925.2l5.5 9.6h-11zM1652.6 928.4l5.5 9.6h-11zM1659.9 922l5.5 9.6h-11zM1667.2 919.9l5.5 9.6h-11zM1674.6 921l5.5 9.6h-11zM1681.9 919.9l5.5 9.6h-11zM1689.2 912.5l5.5 9.6h-11zM1696.5 917.8l5.5 9.6h-11zM1703.9 923.1l5.5 9.6h-11zM1711.2 929.4l5.5 9.6h-11zM1718.5 935.8l5.5 9.6h-11zM1725.8 942.1l5.5 9.6h-11zM1733.1 935.8l5.5 9.6h-11zM1740.5 937.9l5.5 9.6h-11z" fill="none" stroke="#c9302f" stroke-width="1.5"/>
<path d="M1966.4 951h37.3" stroke="#c9302f" stroke-width="1.8" fill="none"/>
<path d="M1985 944.8l5.5 9.6h-11z" fill="none" stroke="#c9302f" stroke-width="1.5"/>
<text x="1945.2" y="960.7" font-size="26.8" text-anchor="end" textLength="106.4" lengthAdjust="spacingAndGlyphs">10°S 90°E</text>
<polyline points="1476.8,1022.4 1484.2,1007.6 1491.5,995.9 1498.8,991.7 1506.1,981.1 1513.4,971.6 1520.8,972.7 1528.1,977.9 1535.4,987.5 1542.7,1002.3 1550.1,1003.3 1557.4,999.1 1564.7,1009.7 1572,1010.7 1579.4,1001.2 1586.7,998 1594,998 1601.3,995.9 1608.7,994.9 1616,993.8 1623.3,994.9 1630.6,986.4 1637.9,984.3 1645.3,988.5 1652.6,995.9 1659.9,997 1667.2,998 1674.6,1001.2 1681.9,1008.6 1689.2,1010.7 1696.5,1023.4 1703.9,1032.9 1711.2,1038.2 1718.5,1040.3 1725.8,1037.2 1733.1,1032.9 1740.5,1030.8" fill="none" stroke="#2e9b2e" stroke-width="1.8" stroke-linejoin="round"/>
<path d="M1476.8 1028.6l5.5 -9.6h-11zM1484.2 1013.8l5.5 -9.6h-11zM1491.5 1002.1l5.5 -9.6h-11zM1498.8 997.9l5.5 -9.6h-11zM1506.1 987.3l5.5 -9.6h-11zM1513.4 977.8l5.5 -9.6h-11zM1520.8 978.9l5.5 -9.6h-11zM1528.1 984.1l5.5 -9.6h-11zM1535.4 993.7l5.5 -9.6h-11zM1542.7 1008.5l5.5 -9.6h-11zM1550.1 1009.5l5.5 -9.6h-11zM1557.4 1005.3l5.5 -9.6h-11zM1564.7 1015.9l5.5 -9.6h-11zM1572 1016.9l5.5 -9.6h-11zM1579.4 1007.4l5.5 -9.6h-11zM1586.7 1004.2l5.5 -9.6h-11zM1594 1004.2l5.5 -9.6h-11zM1601.3 1002.1l5.5 -9.6h-11zM1608.7 1001.1l5.5 -9.6h-11zM1616 1000l5.5 -9.6h-11zM1623.3 1001.1l5.5 -9.6h-11zM1630.6 992.6l5.5 -9.6h-11zM1637.9 990.5l5.5 -9.6h-11zM1645.3 994.7l5.5 -9.6h-11zM1652.6 1002.1l5.5 -9.6h-11zM1659.9 1003.2l5.5 -9.6h-11zM1667.2 1004.2l5.5 -9.6h-11zM1674.6 1007.4l5.5 -9.6h-11zM1681.9 1014.8l5.5 -9.6h-11zM1689.2 1016.9l5.5 -9.6h-11zM1696.5 1029.6l5.5 -9.6h-11zM1703.9 1039.1l5.5 -9.6h-11zM1711.2 1044.4l5.5 -9.6h-11zM1718.5 1046.5l5.5 -9.6h-11zM1725.8 1043.4l5.5 -9.6h-11zM1733.1 1039.1l5.5 -9.6h-11zM1740.5 1037l5.5 -9.6h-11z" fill="none" stroke="#2e9b2e" stroke-width="1.5"/>
<path d="M1966.4 993.7h37.3" stroke="#2e9b2e" stroke-width="1.8" fill="none"/>
<path d="M1985 999.9l5.5 -9.6h-11z" fill="none" stroke="#2e9b2e" stroke-width="1.5"/>
<text x="1945.2" y="1003.4" font-size="26.8" text-anchor="end" textLength="130.7" lengthAdjust="spacingAndGlyphs">1.5°N 103°E</text>
<text x="1609.8" y="814.2" font-size="29.5" text-anchor="middle" font-weight="bold" textLength="167.7" lengthAdjust="spacingAndGlyphs">(g) EIPO (#7)</text>
<text x="1497.5" y="1090.1" font-size="26.8" text-anchor="middle" textLength="10.1" lengthAdjust="spacingAndGlyphs">J</text>
<text x="1518" y="1090.1" font-size="26.8" text-anchor="middle" textLength="13.3" lengthAdjust="spacingAndGlyphs">F</text>
<text x="1540.7" y="1090.1" font-size="26.8" text-anchor="middle" textLength="22" lengthAdjust="spacingAndGlyphs">M</text>
<text x="1562.7" y="1090.1" font-size="26.8" text-anchor="middle" textLength="16.8" lengthAdjust="spacingAndGlyphs">A</text>
<text x="1585.4" y="1090.1" font-size="26.8" text-anchor="middle" textLength="22" lengthAdjust="spacingAndGlyphs">M</text>
<text x="1607.4" y="1090.1" font-size="26.8" text-anchor="middle" textLength="10.1" lengthAdjust="spacingAndGlyphs">J</text>
<text x="1630.1" y="1090.1" font-size="26.8" text-anchor="middle" textLength="10.1" lengthAdjust="spacingAndGlyphs">J</text>
<text x="1652.8" y="1090.1" font-size="26.8" text-anchor="middle" textLength="16.8" lengthAdjust="spacingAndGlyphs">A</text>
<text x="1674.7" y="1090.1" font-size="26.8" text-anchor="middle" textLength="13.5" lengthAdjust="spacingAndGlyphs">S</text>
<text x="1697.4" y="1090.1" font-size="26.8" text-anchor="middle" textLength="18.9" lengthAdjust="spacingAndGlyphs">O</text>
<text x="1719.4" y="1090.1" font-size="26.8" text-anchor="middle" textLength="18" lengthAdjust="spacingAndGlyphs">N</text>
<text x="1742.1" y="1090.1" font-size="26.8" text-anchor="middle" textLength="18.2" lengthAdjust="spacingAndGlyphs">D</text>
<text x="1609.2" y="1132.2" font-size="26.8" text-anchor="middle" textLength="76.6" lengthAdjust="spacingAndGlyphs">Month</text>
<text x="1453.8" y="1046.1" font-size="26.8" text-anchor="end" textLength="42.2" lengthAdjust="spacingAndGlyphs">200</text>
<text x="1453.8" y="965.9" font-size="26.8" text-anchor="end" textLength="42.2" lengthAdjust="spacingAndGlyphs">250</text>
<text x="1453.8" y="885.6" font-size="26.8" text-anchor="end" textLength="42.2" lengthAdjust="spacingAndGlyphs">300</text>
</g>
</svg></body></html>
